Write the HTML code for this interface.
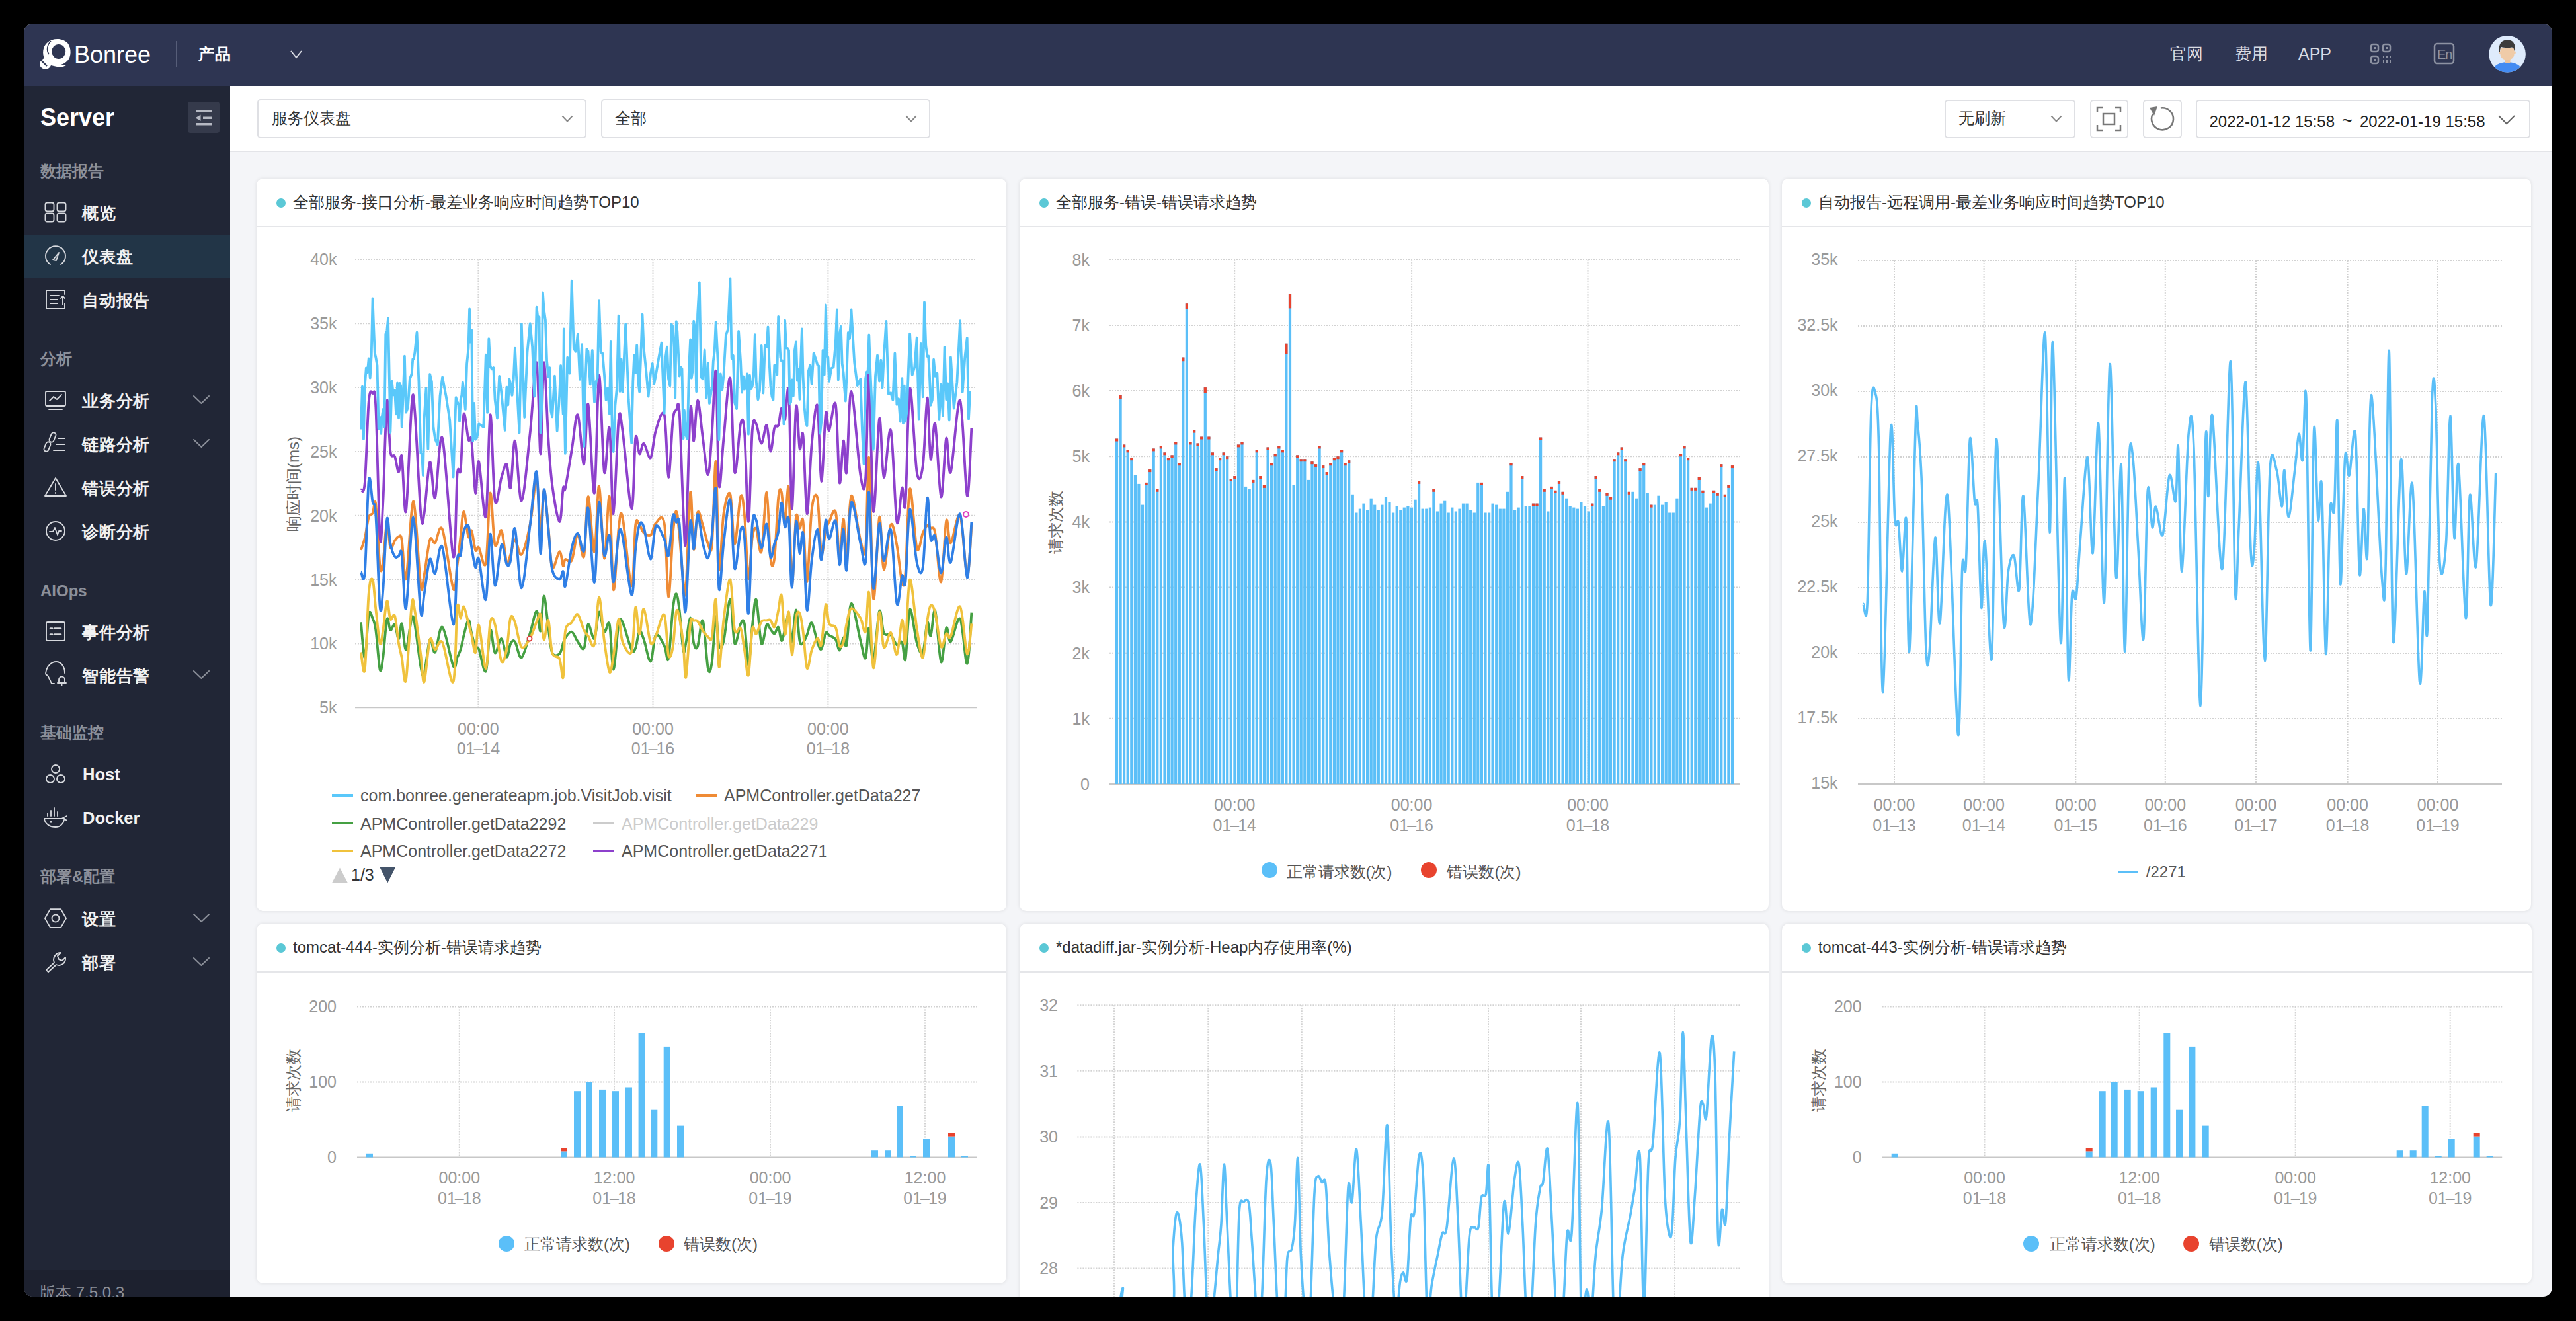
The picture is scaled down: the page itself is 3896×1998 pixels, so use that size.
<!DOCTYPE html><html><head><meta charset="utf-8"><style>

*{box-sizing:border-box;margin:0;padding:0}
html,body{width:3896px;height:1998px;background:#000;overflow:hidden;font-family:"Liberation Sans", sans-serif}
.page{position:absolute;left:0;top:0;width:3896px;height:1998px;clip-path:inset(36px 36px 37px 36px round 14px);background:#f4f5f8}
.abs{position:absolute}
.t{position:absolute;white-space:nowrap;line-height:1}
svg{overflow:visible}

</style></head><body><div class="page">
<div class="abs" style="left:0px;top:130px;width:348px;height:1868px;background:#212636"></div>
<div class="abs" style="left:0px;top:1921px;width:348px;height:77px;background:#1d212f"></div>
<div class="t" style="left:61.0px;top:159.5px;font-size:36px;color:#fff;font-weight:bold;">Server</div>
<div class="abs" style="left:284px;top:154px;width:48px;height:47px;background:#353a4b;border-radius:4px"></div>
<svg class="abs" style="left:0;top:0" width="400" height="300"><g fill="#b5b8c2">
<rect x="296" y="166.5" width="24" height="3.5"/><rect x="307" y="176.5" width="13" height="3.5"/><rect x="296" y="186" width="24" height="3.5"/>
<path d="M295.5 178.2 L303.5 173.5 L303.5 183 Z"/></g></svg>
<div class="t" style="left:61.0px;top:246.7px;font-size:24px;color:#8c909a;font-weight:900;">数据报告</div>
<div class="t" style="left:61.0px;top:530.7px;font-size:24px;color:#8c909a;font-weight:900;">分析</div>
<div class="t" style="left:61.0px;top:881.7px;font-size:24px;color:#8c909a;font-weight:900;">AIOps</div>
<div class="t" style="left:61.0px;top:1095.7px;font-size:24px;color:#8c909a;font-weight:900;">基础监控</div>
<div class="t" style="left:61.0px;top:1313.7px;font-size:24px;color:#8c909a;font-weight:900;">部署&amp;配置</div>
<div class="abs" style="left:36px;top:356px;width:312px;height:64px;background:#223547"></div>
<div class="t" style="left:124.0px;top:309.8px;font-size:25px;color:#f2f2f2;font-weight:600;letter-spacing:0.8px;">概览</div>
<div class="t" style="left:124.0px;top:375.8px;font-size:25px;color:#f2f2f2;font-weight:600;letter-spacing:0.8px;">仪表盘</div>
<div class="t" style="left:124.0px;top:441.8px;font-size:25px;color:#f2f2f2;font-weight:600;letter-spacing:0.8px;">自动报告</div>
<div class="t" style="left:124.0px;top:593.8px;font-size:25px;color:#f2f2f2;font-weight:600;letter-spacing:0.8px;">业务分析</div>
<div class="t" style="left:124.0px;top:659.8px;font-size:25px;color:#f2f2f2;font-weight:600;letter-spacing:0.8px;">链路分析</div>
<div class="t" style="left:124.0px;top:725.8px;font-size:25px;color:#f2f2f2;font-weight:600;letter-spacing:0.8px;">错误分析</div>
<div class="t" style="left:124.0px;top:791.8px;font-size:25px;color:#f2f2f2;font-weight:600;letter-spacing:0.8px;">诊断分析</div>
<div class="t" style="left:124.0px;top:943.8px;font-size:25px;color:#f2f2f2;font-weight:600;letter-spacing:0.8px;">事件分析</div>
<div class="t" style="left:124.0px;top:1009.8px;font-size:25px;color:#f2f2f2;font-weight:600;letter-spacing:0.8px;">智能告警</div>
<div class="t" style="left:125.0px;top:1159.4px;font-size:25.5px;color:#f2f2f2;font-weight:bold;">Host</div>
<div class="t" style="left:125.0px;top:1225.4px;font-size:25.5px;color:#f2f2f2;font-weight:bold;">Docker</div>
<div class="t" style="left:124.0px;top:1377.8px;font-size:25px;color:#f2f2f2;font-weight:600;letter-spacing:0.8px;">设置</div>
<div class="t" style="left:124.0px;top:1443.8px;font-size:25px;color:#f2f2f2;font-weight:600;letter-spacing:0.8px;">部署</div>
<svg class="abs" style="left:0;top:0" width="400" height="2000"><g fill="none" stroke="#d6d8dd" stroke-width="1.9" stroke-linecap="round" stroke-linejoin="round">
<rect x="68.5" y="306.5" width="13" height="13" rx="3"/>
<rect x="68.5" y="322.5" width="13" height="13" rx="3"/>
<rect x="86.5" y="306.5" width="13" height="13" rx="3"/>
<rect x="86.5" y="322.5" width="13" height="13" rx="3"/>
<path d="M76 400 A15 15 0 1 1 92 400"/>
<path d="M80 393 L89 382 L85 394 Z"/>
<path d="M98 445 V439 H70 V467 H98 V459"/>
<path d="M76 447 H89 M76 453 H87 M76 459 H87 M95 461 V448 M92 451 L95 448 L98 451"/>
<polyline points="293,599 304.5,610 316,599" stroke="#8c909a" stroke-width="2"/>
<rect x="69" y="592" width="30" height="22" rx="2"/>
<path d="M74 619 H94 M75 606 L81 600 L86 604 L93 597"/>
<polyline points="293,665 304.5,676 316,665" stroke="#8c909a" stroke-width="2"/>
<rect x="76" y="654" width="7" height="15" rx="3.5" transform="rotate(22 79.5 661.5)"/>
<rect x="68" y="668" width="7" height="15" rx="3.5" transform="rotate(22 71.5 675.5)"/>
<path d="M88 663 H98 M85 672 H98 M81 681 H98"/>
<path d="M84 723 L100 750 H68 Z"/>
<path d="M84 732 V741 M84 745 V746"/>
<circle cx="84" cy="803" r="14"/>
<path d="M75 804 L80 804 L83 798 L87 809 L89 803 L93 803"/>
<rect x="70" y="941" width="28" height="28" rx="2"/>
<path d="M76 950.5 H79 M82 950.5 H92 M76 959.5 H79 M82 959.5 H92" stroke-width="2.6"/>
<polyline points="293,1015 304.5,1026 316,1015" stroke="#8c909a" stroke-width="2"/>
<path d="M82 1034 H78 L76.5 1030.5 L72.5 1022.5 L69 1019.5 C70 1007 78 1001 85 1001 C93 1001 98 1009 98 1018"/>
<path d="M89 1033 V1028 A4.5 4.5 0 0 1 98 1028 V1033 Z M87 1033 H100 M93.5 1035.5 V1036.5"/>
<circle cx="84" cy="1163" r="6"/><circle cx="76" cy="1178" r="6"/><circle cx="92" cy="1178" r="6"/>
<path d="M67 1238 H93 L101 1234 M67 1238 C68 1247 76 1251 84 1251 C92 1251 96 1245 97 1240 M96 1237 L101 1241"/>
<path d="M72 1234 V1230 M77 1234 V1226 M82 1234 V1222 M87 1234 V1228" stroke-width="1.8"/><circle cx="77" cy="1243" r="0.8"/>
<polyline points="293,1383 304.5,1394 316,1383" stroke="#8c909a" stroke-width="2"/>
<polygon points="100.0,1389.0 92.0,1402.9 76.0,1402.9 68.0,1389.0 76.0,1375.1 92.0,1375.1"/><circle cx="84" cy="1389" r="5.5"/>
<polyline points="293,1449 304.5,1460 316,1449" stroke="#8c909a" stroke-width="2"/>
<path d="M70 1467 L82 1456 C79 1449 84 1441 92 1441 L87 1446 L89 1451 L94 1453 L99 1448 C100 1457 92 1462 85 1459 L73 1470 Z"/>
</g></svg>
<div class="t" style="left:60.0px;top:1942.7px;font-size:24px;color:#8c909a;font-weight:normal;">版本 7.5.0.3</div>
<div class="abs" style="left:348px;top:130px;width:3548px;height:100px;background:#fff;border-bottom:2px solid #e3e4e8"></div>
<div class="abs" style="left:389px;top:150px;width:498px;height:59px;background:#fff;border:2px solid #dfe0e4;border-radius:5px"></div>
<div class="t" style="left:411.0px;top:167.2px;font-size:24px;color:#333;font-weight:normal;">服务仪表盘</div>
<svg class="abs" style="left:0;top:0" width="3896" height="1998"><polyline points="850.5,175.5 858,183.5 865.5,175.5" fill="none" stroke="#888" stroke-width="2"/></svg>
<div class="abs" style="left:909px;top:150px;width:498px;height:59px;background:#fff;border:2px solid #dfe0e4;border-radius:5px"></div>
<div class="t" style="left:930.0px;top:167.2px;font-size:24px;color:#333;font-weight:normal;">全部</div>
<svg class="abs" style="left:0;top:0" width="3896" height="1998"><polyline points="1370.5,175.5 1378,183.5 1385.5,175.5" fill="none" stroke="#888" stroke-width="2"/></svg>
<div class="abs" style="left:2941px;top:151px;width:198px;height:58px;background:#fff;border:2px solid #dfe0e4;border-radius:5px"></div>
<div class="t" style="left:2962.0px;top:167.2px;font-size:24px;color:#333;font-weight:normal;">无刷新</div>
<svg class="abs" style="left:0;top:0" width="3896" height="1998"><polyline points="3102.5,175.5 3110,183.5 3117.5,175.5" fill="none" stroke="#888" stroke-width="2"/></svg>
<div class="abs" style="left:3161px;top:151px;width:58px;height:58px;background:#fff;border:2px solid #dfe0e4;border-radius:5px"></div>
<div class="abs" style="left:3241px;top:151px;width:59px;height:58px;background:#fff;border:2px solid #dfe0e4;border-radius:5px"></div>
<div class="abs" style="left:3321px;top:151px;width:506px;height:58px;background:#fff;border:2px solid #dfe0e4;border-radius:5px"></div>
<div class="t" style="left:3341.5px;top:169.7px;font-size:24px;color:#222;font-weight:normal;">2022-01-12 15:58<span style="display:inline-block;width:38px;text-align:center;font-size:27px">~</span>2022-01-19 15:58</div>
<svg class="abs" style="left:0;top:0" width="3896" height="1998"><polyline points="3779.0,175.0 3791,187.0 3803.0,175.0" fill="none" stroke="#666" stroke-width="2"/></svg>
<svg class="abs" style="left:0;top:0" width="3896" height="300"><g fill="none" stroke="#777" stroke-width="2.5">
<path d="M3172 170 V163 H3180 M3199 163 H3207 V170 M3207 189 V197 H3199 M3180 197 H3172 V189"/>
<rect x="3181" y="172" width="17" height="16"/>
<path d="M3256 172 A16.5 16.5 0 1 0 3268 163.5" stroke-width="2.6"/>
</g><path d="M3251 163 L3263 161 L3258 175 Z" fill="#777"/></svg>
<div class="abs" style="left:388px;top:270px;width:1134px;height:1108px;background:#fff;border-radius:10px;box-shadow:0 0 5px 1px rgba(0,0,0,0.07)"></div>
<div class="abs" style="left:388px;top:342px;width:1134px;height:2px;background:#e5e6e9"></div>
<div class="abs" style="left:418px;top:300px;width:14px;height:14px;border-radius:50%;background:#5bc8d6"></div>
<div class="t" style="left:443.0px;top:294.2px;font-size:24px;color:#333;font-weight:normal;">全部服务-接口分析-最差业务响应时间趋势TOP10</div>
<svg class="abs" style="left:0;top:0" width="3896" height="1998">
<g stroke="#d2d2d2" stroke-width="2" stroke-dasharray="2 2" fill="none">
<line x1="537" y1="392.4" x2="1477" y2="392.4"/>
<line x1="537" y1="489.2" x2="1477" y2="489.2"/>
<line x1="537" y1="586.1" x2="1477" y2="586.1"/>
<line x1="537" y1="682.9" x2="1477" y2="682.9"/>
<line x1="537" y1="779.8" x2="1477" y2="779.8"/>
<line x1="537" y1="876.6" x2="1477" y2="876.6"/>
<line x1="537" y1="973.5" x2="1477" y2="973.5"/>
<line x1="723.4" y1="392.4" x2="723.4" y2="1070.3"/>
<line x1="987.5" y1="392.4" x2="987.5" y2="1070.3"/>
<line x1="1252.4" y1="392.4" x2="1252.4" y2="1070.3"/>
</g>
<line x1="537" y1="1070.3" x2="1477" y2="1070.3" stroke="#c8c8c8" stroke-width="2"/>
<path d="M545.9 832.0C546.9 829.0 549.8 822.1 551.8 813.7C553.8 805.4 555.7 788.3 557.7 782.1C559.7 775.9 561.8 779.6 563.6 776.4C565.4 773.2 566.5 749.6 568.3 762.9C570.2 776.2 572.8 841.7 574.6 856.2C576.5 870.7 577.6 861.0 579.4 849.8C581.1 838.7 583.4 793.0 585.3 789.4C587.1 785.7 588.4 823.3 590.4 828.1C592.3 832.8 595.0 820.6 597.1 817.8C599.2 815.1 601.2 811.7 603.0 811.5C604.7 811.4 605.9 806.2 607.7 816.9C609.5 827.6 611.5 883.0 614.0 875.6C616.5 868.2 620.4 789.9 622.7 772.6C624.9 755.2 625.1 752.6 627.4 771.6C629.7 790.5 634.1 869.6 636.4 886.1C638.8 902.5 639.3 882.1 641.5 870.5C643.8 858.9 647.5 824.7 650.2 816.5C653.0 808.3 654.9 823.7 658.1 821.1C661.2 818.5 664.5 789.2 669.1 800.8C673.7 812.4 681.9 881.6 685.6 890.7C689.4 899.7 689.7 868.6 691.5 855.3C693.4 842.0 695.0 824.6 696.7 811.0C698.3 797.4 699.4 773.5 701.4 773.7C703.3 773.9 706.5 807.2 708.5 812.0C710.4 816.8 711.4 799.2 713.2 802.5C715.0 805.9 717.3 827.8 719.1 832.1C720.9 836.4 721.6 825.1 724.2 828.3C726.8 831.5 731.9 865.2 734.8 851.5C737.7 837.7 739.2 750.3 741.5 745.7C743.8 741.2 745.8 814.9 748.6 824.3C751.4 833.8 755.5 798.0 758.4 802.4C761.4 806.7 764.0 844.4 766.3 850.5C768.6 856.6 770.1 844.6 772.2 838.9C774.3 833.1 776.2 816.3 778.9 816.2C781.7 816.1 785.0 842.3 788.8 838.5C792.6 834.6 797.9 812.2 801.7 793.1C805.5 774.0 809.0 722.0 811.6 723.9C814.2 725.8 815.7 801.7 817.5 804.5C819.3 807.4 820.6 742.1 822.6 740.9C824.6 739.8 827.2 777.9 829.3 797.5C831.4 817.1 832.4 852.4 835.2 858.6C838.0 864.7 843.5 834.6 846.2 834.2C849.0 833.8 850.3 854.0 851.7 856.0C853.2 858.0 852.7 847.5 854.9 846.1C857.0 844.7 861.6 853.6 864.7 847.4C867.9 841.1 870.7 809.3 873.8 808.3C876.9 807.3 880.6 851.0 883.2 841.4C885.8 831.9 886.9 752.1 889.5 751.0C892.1 749.9 896.2 837.4 899.0 834.7C901.7 832.0 903.6 733.2 906.0 734.9C908.5 736.5 911.3 842.0 913.9 844.7C916.5 847.3 919.5 743.1 921.8 751.0C924.1 758.9 925.4 883.6 927.7 891.8C930.0 900.0 933.3 818.5 935.6 800.2C937.9 781.9 938.2 767.6 941.5 782.0C944.8 796.3 952.0 884.3 955.2 886.3C958.5 888.3 959.2 809.3 961.2 793.9C963.1 778.5 965.0 791.9 967.1 793.8C969.2 795.8 970.9 803.2 973.7 805.8C976.6 808.4 981.0 811.7 984.0 809.3C987.0 806.9 988.4 794.3 991.9 791.3C995.3 788.4 1001.5 773.0 1004.7 791.5C1007.9 810.1 1008.9 899.8 1011.0 902.5C1013.2 905.2 1015.8 829.4 1017.7 807.9C1019.7 786.3 1021.2 772.9 1022.8 773.2C1024.5 773.4 1025.8 791.6 1027.6 809.4C1029.3 827.1 1031.8 866.2 1033.5 879.7C1035.1 893.2 1035.6 913.0 1037.4 890.5C1039.2 868.0 1042.1 754.6 1044.1 744.6C1046.1 734.6 1047.4 825.5 1049.2 830.6C1051.1 835.6 1052.8 781.1 1055.1 775.1C1057.4 769.1 1060.4 786.8 1063.0 794.7C1065.6 802.7 1068.6 817.9 1070.9 822.7C1073.2 827.5 1074.8 844.3 1076.8 823.5C1078.8 802.8 1080.9 691.9 1082.7 698.1C1084.5 704.3 1085.5 847.6 1087.4 860.6C1089.4 873.7 1091.7 795.5 1094.5 776.6C1097.3 757.8 1101.6 739.8 1104.4 747.4C1107.1 755.1 1108.4 822.1 1111.1 822.7C1113.7 823.3 1117.6 758.2 1120.1 751.0C1122.6 743.8 1124.0 759.0 1126.0 779.7C1128.0 800.3 1130.0 869.4 1131.9 875.0C1133.9 880.6 1135.9 825.8 1137.8 813.2C1139.8 800.7 1141.4 796.3 1143.7 799.8C1146.0 803.3 1149.0 843.5 1151.6 834.3C1154.2 825.2 1157.2 743.1 1159.5 744.8C1161.8 746.5 1163.4 827.9 1165.4 844.4C1167.4 860.9 1169.3 859.2 1171.3 843.9C1173.3 828.6 1175.4 769.2 1177.2 752.7C1179.0 736.1 1180.3 738.2 1181.9 744.5C1183.6 750.7 1185.2 791.0 1187.1 789.9C1188.9 788.8 1191.2 722.3 1193.0 737.8C1194.7 753.3 1195.8 875.4 1197.7 882.8C1199.5 890.3 1202.0 796.3 1204.0 782.3C1206.0 768.2 1207.7 797.6 1209.5 798.7C1211.3 799.8 1212.8 775.2 1214.6 788.7C1216.5 802.3 1218.4 882.9 1220.5 880.1C1222.7 877.2 1225.0 792.5 1227.6 771.4C1230.2 750.3 1233.9 742.5 1236.3 753.4C1238.7 764.3 1240.1 828.9 1242.2 836.9C1244.3 844.9 1246.9 809.1 1248.9 801.2C1250.9 793.3 1251.5 793.7 1254.0 789.3C1256.5 784.8 1261.2 765.5 1263.8 774.4C1266.5 783.3 1267.8 840.9 1269.8 842.7C1271.7 844.5 1273.9 784.9 1275.7 785.1C1277.4 785.2 1278.4 849.3 1280.4 843.4C1282.4 837.6 1284.0 754.3 1287.5 749.9C1291.0 745.5 1297.6 803.6 1301.3 816.9C1304.9 830.3 1307.0 850.7 1309.1 830.0C1311.3 809.2 1312.3 680.1 1314.3 692.6C1316.2 705.1 1318.3 889.9 1320.9 904.8C1323.6 919.8 1327.4 789.8 1330.0 782.5C1332.6 775.2 1333.8 859.4 1336.7 861.2C1339.6 863.1 1344.0 799.7 1347.3 793.6C1350.6 787.5 1353.6 810.2 1356.4 824.7C1359.2 839.2 1362.1 873.6 1364.3 880.7C1366.4 887.7 1367.4 890.4 1369.4 866.9C1371.4 843.3 1373.2 745.5 1376.1 739.3C1379.0 733.0 1383.4 818.3 1386.7 829.4C1390.0 840.5 1393.1 811.7 1395.8 805.9C1398.4 800.1 1400.5 795.8 1402.5 794.6C1404.4 793.3 1405.6 796.6 1407.6 798.5C1409.6 800.5 1411.7 792.7 1414.3 806.4C1416.9 820.0 1420.5 883.5 1423.3 880.4C1426.2 877.3 1428.8 797.5 1431.2 787.6C1433.6 777.8 1434.4 822.7 1437.9 821.3C1441.4 820.0 1447.9 771.4 1452.1 779.6C1456.2 787.8 1459.8 868.3 1462.7 870.8C1465.6 873.2 1468.3 806.9 1469.4 794.1" fill="none" stroke="#ef8b35" stroke-width="3.8" stroke-linejoin="round"/>
<path d="M545.9 864.7C546.9 864.9 549.8 888.8 551.8 865.9C553.8 842.9 555.7 744.9 557.7 727.2C559.7 709.5 561.8 750.9 563.6 759.5C565.4 768.1 566.5 752.5 568.3 778.8C570.2 805.1 572.8 898.6 574.6 917.3C576.5 936.0 577.6 913.0 579.4 891.1C581.1 869.1 583.4 796.9 585.3 785.5C587.1 774.0 588.4 812.9 590.4 822.3C592.3 831.7 595.0 838.7 597.1 841.8C599.2 845.0 601.2 841.6 603.0 841.1C604.7 840.5 605.9 825.3 607.7 838.5C609.5 851.8 611.5 927.3 614.0 920.5C616.5 913.6 620.4 817.6 622.7 797.4C624.9 777.2 625.1 777.9 627.4 799.4C629.7 820.9 634.1 909.7 636.4 926.3C638.8 942.9 639.3 912.5 641.5 899.1C643.8 885.7 647.5 851.2 650.2 845.9C653.0 840.6 654.9 870.1 658.1 867.1C661.2 864.1 664.5 815.0 669.1 827.9C673.7 840.8 681.9 941.2 685.6 944.4C689.4 947.6 689.7 864.8 691.5 847.2C693.4 829.7 695.0 846.4 696.7 839.2C698.3 832.0 699.4 811.3 701.4 804.0C703.3 796.7 706.5 791.5 708.5 795.4C710.4 799.3 711.4 816.9 713.2 827.4C715.0 837.8 717.3 855.3 719.1 858.3C720.9 861.3 721.6 837.4 724.2 845.4C726.8 853.5 731.9 913.1 734.8 906.8C737.7 900.5 739.2 811.3 741.5 807.8C743.8 804.2 745.8 882.8 748.6 885.6C751.4 888.4 755.5 829.7 758.4 824.3C761.4 818.9 764.0 849.2 766.3 853.1C768.6 857.0 770.1 856.7 772.2 847.8C774.3 838.9 776.2 792.7 778.9 799.6C781.7 806.5 785.0 890.3 788.8 889.3C792.6 888.4 797.9 823.4 801.7 794.1C805.5 764.8 809.0 706.4 811.6 713.5C814.2 720.7 815.7 832.4 817.5 837.0C819.3 841.5 820.6 747.0 822.6 740.8C824.6 734.6 827.2 779.6 829.3 799.7C831.4 819.9 832.4 848.9 835.2 861.7C838.0 874.5 843.5 875.9 846.2 876.3C849.0 876.7 850.3 862.3 851.7 864.0C853.2 865.7 852.7 892.3 854.9 886.5C857.0 880.7 861.6 842.3 864.7 829.1C867.9 815.8 870.7 806.2 873.8 806.9C876.9 807.6 880.6 839.7 883.2 833.3C885.8 826.9 886.9 760.7 889.5 768.7C892.1 776.6 896.2 882.5 899.0 881.1C901.7 879.7 903.6 766.9 906.0 760.1C908.5 753.2 911.3 831.5 913.9 839.8C916.5 848.1 919.5 802.8 921.8 809.6C924.1 816.4 925.4 880.6 927.7 880.6C930.0 880.6 933.3 821.3 935.6 809.7C937.9 798.1 938.2 795.9 941.5 811.0C944.8 826.1 952.0 896.8 955.2 900.0C958.5 903.3 959.2 848.1 961.2 830.4C963.1 812.7 965.0 799.4 967.1 793.9C969.2 788.4 970.9 788.7 973.7 797.4C976.6 806.0 981.0 846.1 984.0 845.8C987.0 845.6 988.4 800.8 991.9 795.8C995.3 790.7 1001.5 808.2 1004.7 815.7C1007.9 823.1 1008.9 846.2 1011.0 840.3C1013.2 834.4 1015.8 788.7 1017.7 780.3C1019.7 771.8 1021.2 787.8 1022.8 789.8C1024.5 791.8 1025.8 775.2 1027.6 792.2C1029.3 809.2 1031.8 870.3 1033.5 891.6C1035.1 912.9 1035.6 936.8 1037.4 919.8C1039.2 902.8 1042.1 804.4 1044.1 789.5C1046.1 774.6 1047.4 832.4 1049.2 830.5C1051.1 828.6 1052.8 779.6 1055.1 778.1C1057.4 776.6 1060.4 810.7 1063.0 821.7C1065.6 832.7 1068.6 846.3 1070.9 844.2C1073.2 842.0 1074.8 826.0 1076.8 808.6C1078.8 791.2 1080.9 726.1 1082.7 739.7C1084.5 753.4 1085.5 876.8 1087.4 890.3C1089.4 903.9 1091.7 843.4 1094.5 821.0C1097.3 798.6 1101.6 749.3 1104.4 755.8C1107.1 762.3 1108.4 852.2 1111.1 859.8C1113.7 867.5 1117.6 809.2 1120.1 801.6C1122.6 793.9 1124.0 793.0 1126.0 814.1C1128.0 835.2 1130.0 931.5 1131.9 928.1C1133.9 924.7 1135.9 817.1 1137.8 793.6C1139.8 770.0 1141.4 781.0 1143.7 786.8C1146.0 792.6 1149.0 827.6 1151.6 828.5C1154.2 829.4 1157.2 790.0 1159.5 792.4C1161.8 794.8 1163.4 838.0 1165.4 842.9C1167.4 847.9 1169.3 828.5 1171.3 822.1C1173.3 815.6 1175.4 814.4 1177.2 804.1C1179.0 793.9 1180.3 761.8 1181.9 760.6C1183.6 759.5 1185.2 792.8 1187.1 797.0C1188.9 801.2 1191.2 770.8 1193.0 786.1C1194.7 801.3 1195.8 888.1 1197.7 888.6C1199.5 889.2 1202.0 798.1 1204.0 789.4C1206.0 780.8 1207.7 833.9 1209.5 836.9C1211.3 839.9 1212.8 793.2 1214.6 807.5C1216.5 821.7 1218.4 915.8 1220.5 922.5C1222.7 929.3 1225.0 868.3 1227.6 847.9C1230.2 827.6 1233.9 800.8 1236.3 800.6C1238.7 800.3 1240.1 848.9 1242.2 846.6C1244.3 844.4 1246.9 792.1 1248.9 786.8C1250.9 781.6 1251.5 815.1 1254.0 815.3C1256.5 815.5 1261.2 781.5 1263.8 788.0C1266.5 794.4 1267.8 852.0 1269.8 854.1C1271.7 856.1 1273.9 798.8 1275.7 800.2C1277.4 801.6 1278.4 869.1 1280.4 862.4C1282.4 855.7 1284.0 767.1 1287.5 760.2C1291.0 753.4 1297.6 806.2 1301.3 821.2C1304.9 836.2 1307.0 863.2 1309.1 850.5C1311.3 837.7 1312.3 737.9 1314.3 744.5C1316.2 751.0 1318.3 881.8 1320.9 889.7C1323.6 897.7 1327.4 799.1 1330.0 792.2C1332.6 785.2 1333.8 846.5 1336.7 848.1C1339.6 849.6 1344.0 790.6 1347.3 801.4C1350.6 812.2 1353.6 901.4 1356.4 912.9C1359.2 924.4 1362.1 876.0 1364.3 870.6C1366.4 865.2 1367.4 897.2 1369.4 880.6C1371.4 864.0 1373.2 775.7 1376.1 770.8C1379.0 765.8 1383.4 836.3 1386.7 850.8C1390.0 865.3 1393.1 874.0 1395.8 857.8C1398.4 841.5 1400.5 760.3 1402.5 753.3C1404.4 746.2 1405.6 805.7 1407.6 815.5C1409.6 825.2 1411.7 803.1 1414.3 811.7C1416.9 820.2 1420.5 866.6 1423.3 866.7C1426.2 866.9 1428.8 815.2 1431.2 812.5C1433.6 809.8 1434.4 856.4 1437.9 850.5C1441.4 844.7 1447.9 773.5 1452.1 777.3C1456.2 781.2 1459.8 871.6 1462.7 873.6C1465.6 875.6 1468.3 803.3 1469.4 789.2" fill="none" stroke="#2f7fe6" stroke-width="3.8" stroke-linejoin="round"/>
<path d="M545.9 941.2C546.9 950.1 549.8 996.7 551.8 994.7C553.8 992.7 555.7 939.2 557.7 929.4C559.7 919.5 561.8 931.5 563.6 935.4C565.4 939.4 566.5 940.1 568.3 953.0C570.2 965.9 572.8 1006.0 574.6 1012.7C576.5 1019.5 577.6 1006.3 579.4 993.5C581.1 980.8 583.4 943.3 585.3 936.5C587.1 929.8 588.4 951.7 590.4 953.0C592.3 954.4 595.0 942.4 597.1 944.7C599.2 947.0 601.2 966.9 603.0 966.7C604.7 966.5 605.9 940.9 607.7 943.5C609.5 946.1 611.5 983.8 614.0 982.4C616.5 981.0 620.4 941.5 622.7 935.2C624.9 928.9 625.1 932.5 627.4 944.8C629.7 957.0 634.1 996.2 636.4 1008.7C638.8 1021.1 639.3 1026.2 641.5 1019.3C643.8 1012.4 647.5 972.9 650.2 967.5C653.0 962.1 654.9 989.9 658.1 986.7C661.2 983.6 664.5 945.1 669.1 948.6C673.7 952.1 681.9 1000.1 685.6 1007.7C689.4 1015.3 689.7 998.5 691.5 994.2C693.4 990.0 695.0 987.6 696.7 982.2C698.3 976.7 699.4 969.0 701.4 961.6C703.3 954.2 706.5 938.3 708.5 937.6C710.4 937.0 711.4 950.6 713.2 957.6C715.0 964.6 717.3 975.6 719.1 979.6C720.9 983.6 721.6 975.7 724.2 981.7C726.8 987.6 731.9 1020.2 734.8 1015.4C737.7 1010.5 739.2 957.4 741.5 952.8C743.8 948.1 745.8 985.2 748.6 987.4C751.4 989.6 755.5 965.0 758.4 966.0C761.4 967.0 764.0 992.4 766.3 993.6C768.6 994.9 770.1 977.3 772.2 973.5C774.3 969.6 776.2 967.0 778.9 970.6C781.7 974.1 785.0 996.9 788.8 994.7C792.6 992.6 797.9 969.3 801.7 957.6C805.5 945.8 809.0 924.7 811.6 924.1C814.2 923.6 815.7 958.1 817.5 954.4C819.3 950.6 820.6 902.6 822.6 901.6C824.6 900.7 827.2 934.4 829.3 948.6C831.4 962.9 832.4 980.5 835.2 987.2C838.0 993.9 843.5 991.3 846.2 988.9C849.0 986.6 850.3 977.1 851.7 973.0C853.2 969.0 852.7 967.6 854.9 964.7C857.0 961.8 861.6 954.8 864.7 955.7C867.9 956.7 870.7 966.4 873.8 970.5C876.9 974.7 880.6 984.9 883.2 980.6C885.8 976.2 886.9 946.9 889.5 944.5C892.1 942.0 896.2 969.1 899.0 966.0C901.7 962.8 903.6 927.3 906.0 925.6C908.5 923.9 911.3 952.6 913.9 955.8C916.5 958.9 919.5 934.8 921.8 944.3C924.1 953.7 925.4 1012.6 927.7 1012.7C930.0 1012.7 933.3 956.5 935.6 944.6C937.9 932.7 938.2 934.7 941.5 941.1C944.8 947.4 952.0 976.2 955.2 982.6C958.5 989.1 959.2 984.6 961.2 980.0C963.1 975.4 965.0 957.1 967.1 955.0C969.2 952.8 970.9 959.6 973.7 967.2C976.6 974.8 981.0 1001.6 984.0 1000.5C987.0 999.4 988.4 964.3 991.9 960.4C995.3 956.4 1001.5 970.7 1004.7 976.7C1007.9 982.6 1008.9 1005.3 1011.0 995.9C1013.2 986.6 1015.8 936.9 1017.7 920.6C1019.7 904.3 1021.2 897.7 1022.8 898.1C1024.5 898.5 1025.8 909.0 1027.6 923.3C1029.3 937.5 1031.8 975.3 1033.5 983.5C1035.1 991.7 1035.6 980.8 1037.4 972.6C1039.2 964.4 1042.1 934.3 1044.1 934.3C1046.1 934.3 1047.4 965.4 1049.2 972.6C1051.1 979.9 1052.8 983.4 1055.1 977.8C1057.4 972.2 1060.4 933.3 1063.0 938.9C1065.6 944.5 1068.6 1001.1 1070.9 1011.5C1073.2 1021.8 1074.8 1014.2 1076.8 1001.1C1078.8 987.9 1080.9 936.6 1082.7 932.5C1084.5 928.5 1085.5 970.7 1087.4 976.8C1089.4 982.9 1091.7 981.0 1094.5 969.3C1097.3 957.6 1101.6 906.0 1104.4 906.6C1107.1 907.2 1108.4 966.7 1111.1 972.9C1113.7 979.1 1117.6 948.5 1120.1 943.7C1122.6 938.9 1124.0 933.7 1126.0 944.2C1128.0 954.6 1130.0 1005.7 1131.9 1006.2C1133.9 1006.6 1135.9 963.4 1137.8 946.9C1139.8 930.4 1141.4 902.7 1143.7 907.0C1146.0 911.4 1149.0 966.9 1151.6 973.2C1154.2 979.5 1157.2 948.6 1159.5 945.0C1161.8 941.5 1163.4 949.6 1165.4 951.8C1167.4 954.1 1169.3 959.0 1171.3 958.5C1173.3 958.0 1175.4 946.9 1177.2 948.7C1179.0 950.4 1180.3 968.3 1181.9 969.0C1183.6 969.7 1185.2 959.3 1187.1 952.8C1188.9 946.3 1191.2 927.3 1193.0 930.2C1194.7 933.1 1195.8 971.5 1197.7 970.2C1199.5 968.8 1202.0 922.4 1204.0 922.3C1206.0 922.2 1207.7 961.2 1209.5 969.5C1211.3 977.8 1212.8 973.8 1214.6 972.2C1216.5 970.7 1218.4 965.3 1220.5 960.3C1222.7 955.3 1225.0 940.3 1227.6 942.1C1230.2 943.9 1233.9 964.5 1236.3 971.1C1238.7 977.7 1240.1 983.9 1242.2 981.6C1244.3 979.3 1246.9 961.0 1248.9 957.5C1250.9 954.1 1251.5 959.3 1254.0 960.9C1256.5 962.4 1261.2 963.3 1263.8 967.1C1266.5 970.9 1267.8 984.1 1269.8 983.6C1271.7 983.2 1273.9 965.9 1275.7 964.4C1277.4 963.0 1278.4 983.8 1280.4 975.2C1282.4 966.6 1284.0 913.8 1287.5 912.7C1291.0 911.5 1297.6 954.7 1301.3 968.5C1304.9 982.3 1307.0 998.6 1309.1 995.5C1311.3 992.4 1312.3 949.1 1314.3 949.8C1316.2 950.5 1318.3 1004.0 1320.9 999.8C1323.6 995.5 1327.4 931.5 1330.0 924.4C1332.6 917.3 1333.8 951.3 1336.7 957.3C1339.6 963.3 1344.0 957.4 1347.3 960.4C1350.6 963.5 1353.6 973.7 1356.4 975.5C1359.2 977.3 1362.1 967.7 1364.3 971.3C1366.4 974.9 1367.4 1005.4 1369.4 997.1C1371.4 988.9 1373.2 925.9 1376.1 921.8C1379.0 917.7 1383.4 961.4 1386.7 972.3C1390.0 983.2 1393.1 992.2 1395.8 987.1C1398.4 981.9 1400.5 945.6 1402.5 941.4C1404.4 937.1 1405.6 964.5 1407.6 961.6C1409.6 958.7 1411.7 917.2 1414.3 923.8C1416.9 930.5 1420.5 997.0 1423.3 1001.3C1426.2 1005.6 1428.8 954.9 1431.2 949.8C1433.6 944.6 1434.4 972.8 1437.9 970.5C1441.4 968.2 1447.9 930.3 1452.1 935.9C1456.2 941.5 1459.8 1005.4 1462.7 1003.8C1465.6 1002.3 1468.3 939.6 1469.4 926.7" fill="none" stroke="#45a043" stroke-width="3.8" stroke-linejoin="round"/>
<path d="M545.9 986.5C546.9 990.8 549.8 1027.4 551.8 1012.6C553.8 997.8 555.7 920.3 557.7 897.7C559.7 875.0 561.8 872.8 563.6 876.6C565.4 880.5 566.5 904.8 568.3 920.8C570.2 936.9 572.8 967.6 574.6 972.9C576.5 978.3 577.6 963.4 579.4 952.8C581.1 942.1 583.4 911.8 585.3 909.1C587.1 906.3 588.4 932.7 590.4 936.5C592.3 940.2 595.0 925.5 597.1 931.6C599.2 937.7 601.2 962.5 603.0 973.0C604.7 983.5 605.9 985.3 607.7 994.6C609.5 1003.8 611.5 1041.6 614.0 1028.4C616.5 1015.1 620.4 932.3 622.7 914.9C624.9 897.6 625.1 911.4 627.4 924.1C629.7 936.7 634.1 972.8 636.4 990.8C638.8 1008.7 639.3 1035.4 641.5 1031.6C643.8 1027.7 647.5 975.7 650.2 967.5C653.0 959.4 654.9 982.0 658.1 982.7C661.2 983.4 664.5 963.8 669.1 971.8C673.7 979.9 681.9 1039.9 685.6 1031.1C689.4 1022.3 689.7 935.1 691.5 919.0C693.4 903.0 695.0 935.1 696.7 934.8C698.3 934.5 699.4 916.1 701.4 917.4C703.3 918.7 706.5 935.4 708.5 942.6C710.4 949.8 711.4 953.2 713.2 960.6C715.0 968.0 717.3 989.6 719.1 987.1C720.9 984.5 721.6 941.5 724.2 945.5C726.8 949.5 731.9 1011.7 734.8 1011.1C737.7 1010.4 739.2 952.4 741.5 941.3C743.8 930.3 745.8 935.0 748.6 944.8C751.4 954.6 755.5 994.0 758.4 1000.1C761.4 1006.2 764.0 992.2 766.3 981.2C768.6 970.3 770.1 941.0 772.2 934.4C774.3 927.8 776.2 934.1 778.9 941.5C781.7 948.9 785.0 974.8 788.8 978.8C792.6 982.8 797.9 971.7 801.7 965.3C805.5 959.0 809.0 946.5 811.6 940.5C814.2 934.5 815.7 924.9 817.5 929.4C819.3 934.0 820.6 966.2 822.6 967.6C824.6 969.1 827.2 934.8 829.3 938.1C831.4 941.4 832.4 977.6 835.2 987.3C838.0 997.0 843.5 990.2 846.2 996.4C849.0 1002.6 850.3 1031.3 851.7 1024.4C853.2 1017.6 852.7 969.2 854.9 955.3C857.0 941.5 861.6 945.7 864.7 941.4C867.9 937.0 870.7 927.3 873.8 929.3C876.9 931.3 880.6 947.8 883.2 953.2C885.8 958.6 886.9 958.2 889.5 961.8C892.1 965.4 896.2 984.2 899.0 974.5C901.7 964.8 903.6 904.5 906.0 903.5C908.5 902.6 911.3 950.3 913.9 969.1C916.5 987.9 919.5 1012.6 921.8 1016.5C924.1 1020.4 925.4 1005.8 927.7 992.5C930.0 979.1 933.3 940.0 935.6 936.4C937.9 932.7 938.2 962.4 941.5 970.7C944.8 978.9 952.0 994.4 955.2 985.7C958.5 977.1 959.2 923.1 961.2 918.7C963.1 914.3 965.0 959.0 967.1 959.4C969.2 959.8 970.9 919.0 973.7 921.1C976.6 923.2 981.0 965.3 984.0 972.1C987.0 978.8 988.4 968.6 991.9 961.6C995.3 954.6 1001.5 925.1 1004.7 930.0C1007.9 934.9 1008.9 982.8 1011.0 990.9C1013.2 998.9 1015.8 989.2 1017.7 978.3C1019.7 967.4 1021.2 932.9 1022.8 925.6C1024.5 918.4 1025.8 926.4 1027.6 934.6C1029.3 942.8 1031.8 959.9 1033.5 974.9C1035.1 989.9 1035.6 1029.7 1037.4 1024.5C1039.2 1019.2 1042.1 957.7 1044.1 943.4C1046.1 929.1 1047.4 939.5 1049.2 938.9C1051.1 938.2 1052.8 937.2 1055.1 939.7C1057.4 942.1 1060.4 949.9 1063.0 953.9C1065.6 957.8 1068.6 961.7 1070.9 963.3C1073.2 965.0 1074.8 972.9 1076.8 963.5C1078.8 954.1 1080.9 899.4 1082.7 907.0C1084.5 914.5 1085.5 1003.6 1087.4 1008.7C1089.4 1013.7 1091.7 959.3 1094.5 937.3C1097.3 915.3 1101.6 874.1 1104.4 876.6C1107.1 879.1 1108.4 940.0 1111.1 952.3C1113.7 964.6 1117.6 945.1 1120.1 950.3C1122.6 955.5 1124.0 971.9 1126.0 983.7C1128.0 995.6 1130.0 1026.7 1131.9 1021.3C1133.9 1015.9 1135.9 961.7 1137.8 951.3C1139.8 940.9 1141.4 960.9 1143.7 959.0C1146.0 957.2 1149.0 943.5 1151.6 940.1C1154.2 936.7 1157.2 938.7 1159.5 938.4C1161.8 938.0 1163.4 936.4 1165.4 938.1C1167.4 939.7 1169.3 950.8 1171.3 948.3C1173.3 945.9 1175.4 931.1 1177.2 923.1C1179.0 915.2 1180.3 894.5 1181.9 900.6C1183.6 906.7 1185.2 955.7 1187.1 959.8C1188.9 964.0 1191.2 920.7 1193.0 925.7C1194.7 930.8 1195.8 988.9 1197.7 990.2C1199.5 991.5 1202.0 944.2 1204.0 933.8C1206.0 923.4 1207.7 924.3 1209.5 927.9C1211.3 931.4 1212.8 941.5 1214.6 955.3C1216.5 969.1 1218.4 1006.0 1220.5 1010.7C1222.7 1015.4 1225.0 991.0 1227.6 983.4C1230.2 975.8 1233.9 966.8 1236.3 965.3C1238.7 963.8 1240.1 983.0 1242.2 974.5C1244.3 966.1 1246.9 919.7 1248.9 914.5C1250.9 909.3 1251.5 937.6 1254.0 943.3C1256.5 949.1 1261.2 943.4 1263.8 948.9C1266.5 954.5 1267.8 973.0 1269.8 976.8C1271.7 980.5 1273.9 976.8 1275.7 971.3C1277.4 965.8 1278.4 952.2 1280.4 943.7C1282.4 935.2 1284.0 921.8 1287.5 920.3C1291.0 918.8 1297.6 928.9 1301.3 934.7C1304.9 940.5 1307.0 961.7 1309.1 955.3C1311.3 948.9 1312.3 887.3 1314.3 896.4C1316.2 905.6 1318.3 1005.2 1320.9 1010.2C1323.6 1015.1 1327.4 931.5 1330.0 926.2C1332.6 921.0 1333.8 973.7 1336.7 978.8C1339.6 983.9 1344.0 955.2 1347.3 957.0C1350.6 958.8 1353.6 993.0 1356.4 989.8C1359.2 986.6 1362.1 940.8 1364.3 937.9C1366.4 935.0 1367.4 982.5 1369.4 972.3C1371.4 962.1 1373.2 880.1 1376.1 876.6C1379.0 873.1 1383.4 931.5 1386.7 951.2C1390.0 970.9 1393.1 996.9 1395.8 994.7C1398.4 992.6 1400.5 951.5 1402.5 938.3C1404.4 925.2 1405.6 917.8 1407.6 915.9C1409.6 914.0 1411.7 916.4 1414.3 926.7C1416.9 937.1 1420.5 972.8 1423.3 978.0C1426.2 983.3 1428.8 961.0 1431.2 958.4C1433.6 955.8 1434.4 969.3 1437.9 962.4C1441.4 955.6 1447.9 913.1 1452.1 917.5C1456.2 921.9 1459.8 984.3 1462.7 988.6C1465.6 993.0 1468.3 950.9 1469.4 943.3" fill="none" stroke="#f0c23c" stroke-width="3.8" stroke-linejoin="round"/>
<path d="M545.9 740.9C546.9 739.1 549.8 752.1 551.8 729.9C553.8 707.6 555.7 630.1 557.7 607.6C559.7 585.1 561.8 593.6 563.6 595.0C565.4 596.3 566.5 579.2 568.3 615.5C570.2 651.8 572.8 789.0 574.6 812.7C576.5 836.4 577.6 791.8 579.4 757.5C581.1 723.2 583.4 619.3 585.3 606.8C587.1 594.3 588.4 668.6 590.4 682.5C592.3 696.5 595.0 685.2 597.1 690.4C599.2 695.7 601.2 714.1 603.0 714.1C604.7 714.1 605.9 680.6 607.7 690.4C609.5 700.3 611.5 786.4 614.0 773.3C616.5 760.1 620.4 636.5 622.7 611.5C624.9 586.5 625.1 595.8 627.4 623.4C629.7 651.0 634.1 751.6 636.4 777.2C638.8 802.8 639.3 790.2 641.5 777.2C643.8 764.2 647.5 703.2 650.2 699.1C653.0 695.0 654.9 758.8 658.1 752.8C661.2 746.7 664.5 647.9 669.1 662.8C673.7 677.7 681.9 833.1 685.6 842.3C689.4 851.5 689.7 740.1 691.5 718.0C693.4 696.0 695.0 725.4 696.7 710.1C698.3 694.9 699.4 634.1 701.4 626.5C703.3 619.0 706.5 658.1 708.5 664.8C710.4 671.5 711.4 653.3 713.2 666.8C715.0 680.2 717.3 740.4 719.1 745.6C720.9 750.9 721.6 692.4 724.2 698.3C726.8 704.2 731.9 793.0 734.8 781.2C737.7 769.3 739.2 631.3 741.5 627.3C743.8 623.4 745.8 741.7 748.6 757.5C751.4 773.3 755.5 731.2 758.4 722.0C761.4 712.8 764.0 699.6 766.3 702.3C768.6 704.9 770.1 743.7 772.2 737.8C774.3 731.8 776.2 663.5 778.9 666.8C781.7 670.0 785.0 759.5 788.8 757.5C792.6 755.5 797.9 689.8 801.7 654.9C805.5 620.1 809.0 543.2 811.6 548.4C814.2 553.7 815.7 686.5 817.5 686.5C819.3 686.5 820.6 552.4 822.6 548.4C824.6 544.5 827.2 631.9 829.3 662.8C831.4 693.7 832.4 712.8 835.2 733.8C838.0 754.9 843.5 788.3 846.2 789.0C849.0 789.8 850.3 747.0 851.7 738.5C853.2 730.1 852.7 748.2 854.9 738.5C857.0 728.9 861.6 699.1 864.7 680.6C867.9 662.0 870.7 623.7 873.8 627.3C876.9 630.9 880.6 704.9 883.2 702.3C885.8 699.6 886.9 604.3 889.5 611.5C892.1 618.8 896.2 752.9 899.0 745.6C901.7 738.4 903.6 573.4 906.0 568.1C908.5 562.9 911.3 700.9 913.9 714.1C916.5 727.2 919.5 636.5 921.8 647.0C924.1 657.6 925.4 779.2 927.7 777.2C930.0 775.2 933.3 656.2 935.6 635.2C937.9 614.2 938.2 628.6 941.5 651.0C944.8 673.3 952.0 767.3 955.2 769.3C958.5 771.3 959.2 676.6 961.2 662.8C963.1 649.0 965.0 685.2 967.1 686.5C969.2 687.8 970.9 669.7 973.7 670.7C976.6 671.7 981.0 695.7 984.0 692.4C987.0 689.1 988.4 661.8 991.9 651.0C995.3 640.1 1001.5 615.5 1004.7 627.3C1007.9 639.1 1008.9 720.7 1011.0 722.0C1013.2 723.3 1015.8 652.2 1017.7 635.2C1019.7 618.2 1021.2 622.2 1022.8 620.2C1024.5 618.2 1025.8 597.9 1027.6 623.4C1029.3 648.9 1031.8 741.0 1033.5 773.3C1035.1 805.5 1035.6 842.3 1037.4 816.7C1039.2 791.0 1042.1 644.4 1044.1 619.4C1046.1 594.4 1047.4 669.1 1049.2 666.8C1051.1 664.5 1052.8 606.3 1055.1 605.6C1057.4 605.0 1060.4 644.1 1063.0 662.8C1065.6 681.5 1068.6 719.4 1070.9 718.0C1073.2 716.7 1074.8 680.9 1076.8 654.9C1078.8 629.0 1080.9 549.1 1082.7 562.2C1084.5 575.4 1085.5 717.1 1087.4 733.8C1089.4 750.6 1091.7 689.8 1094.5 662.8C1097.3 635.9 1101.6 563.5 1104.4 572.1C1107.1 580.6 1108.4 702.6 1111.1 714.1C1113.7 725.6 1117.6 651.0 1120.1 641.1C1122.6 631.3 1124.0 630.3 1126.0 654.9C1128.0 679.6 1130.0 789.7 1131.9 789.0C1133.9 788.4 1135.9 675.6 1137.8 651.0C1139.8 626.3 1141.4 637.8 1143.7 641.1C1146.0 644.4 1149.0 670.4 1151.6 670.7C1154.2 671.0 1157.2 641.1 1159.5 643.1C1161.8 645.1 1163.4 681.9 1165.4 682.5C1167.4 683.2 1169.3 653.6 1171.3 647.0C1173.3 640.5 1175.4 648.0 1177.2 643.1C1179.0 638.2 1180.3 618.8 1181.9 617.4C1183.6 616.1 1185.2 639.5 1187.1 635.2C1188.9 630.9 1191.2 569.5 1193.0 591.8C1194.7 614.2 1195.8 765.4 1197.7 769.3C1199.5 773.3 1202.0 630.6 1204.0 615.5C1206.0 600.4 1207.7 671.4 1209.5 678.6C1211.3 685.8 1212.8 642.4 1214.6 658.9C1216.5 675.3 1218.4 774.9 1220.5 777.2C1222.7 779.5 1225.0 700.0 1227.6 672.7C1230.2 645.4 1233.9 604.3 1236.3 613.5C1238.7 622.7 1240.1 725.9 1242.2 727.9C1244.3 729.9 1246.9 638.2 1248.9 625.3C1250.9 612.5 1251.5 653.3 1254.0 651.0C1256.5 648.7 1261.2 598.4 1263.8 611.5C1266.5 624.7 1267.8 720.7 1269.8 729.9C1271.7 739.1 1273.9 669.4 1275.7 666.8C1277.4 664.1 1278.4 726.6 1280.4 714.1C1282.4 701.6 1284.0 591.1 1287.5 591.8C1291.0 592.5 1297.6 696.0 1301.3 718.0C1304.9 740.1 1307.0 750.6 1309.1 724.0C1311.3 697.3 1312.3 550.1 1314.3 558.3C1316.2 566.5 1318.3 760.8 1320.9 773.3C1323.6 785.8 1327.4 641.8 1330.0 633.2C1332.6 624.7 1333.8 719.0 1336.7 722.0C1339.6 724.9 1344.0 639.8 1347.3 651.0C1350.6 662.2 1353.6 774.6 1356.4 789.0C1359.2 803.5 1362.1 742.4 1364.3 737.8C1366.4 733.2 1367.4 786.4 1369.4 761.4C1371.4 736.4 1373.2 595.8 1376.1 587.9C1379.0 580.0 1383.4 694.7 1386.7 714.1C1390.0 733.5 1393.1 723.0 1395.8 704.2C1398.4 685.5 1400.5 603.3 1402.5 601.7C1404.4 600.0 1405.6 687.8 1407.6 694.4C1409.6 700.9 1411.7 631.6 1414.3 641.1C1416.9 650.6 1420.5 748.0 1423.3 751.6C1426.2 755.2 1428.8 669.1 1431.2 662.8C1433.6 656.6 1434.4 723.6 1437.9 714.1C1441.4 704.6 1447.9 599.7 1452.1 605.6C1456.2 611.5 1459.8 742.7 1462.7 749.6C1465.6 756.5 1468.3 664.1 1469.4 647.0" fill="none" stroke="#8d40cc" stroke-width="3.8" stroke-linejoin="round"/>
<path d="M545.9 649.5 L547.9 584.7 L549.9 664.2 L551.8 583.7 L553.8 556.5 L555.8 563.0 L557.7 542.3 L559.7 571.7 L561.7 537.6 L563.6 451.3 L565.2 495.3 L566.8 534.2 L568.3 540.3 L570.5 552.9 L572.6 648.3 L574.6 630.8 L576.2 655.8 L577.8 630.6 L579.4 619.0 L581.4 645.7 L583.3 505.3 L585.3 499.8 L587.0 481.6 L588.7 564.7 L590.4 654.0 L592.7 576.7 L594.9 597.3 L597.1 590.5 L599.1 626.3 L601.0 579.4 L603.0 632.3 L604.6 580.0 L606.1 583.7 L607.7 645.9 L609.8 593.7 L611.9 538.7 L614.0 623.7 L616.9 616.6 L619.8 573.1 L622.7 565.5 L624.3 543.1 L625.8 542.8 L627.4 533.0 L630.5 502.7 L633.4 577.0 L636.4 685.4 L638.2 686.5 L639.9 719.1 L641.5 634.1 L644.5 587.5 L647.4 679.2 L650.2 565.9 L652.9 577.4 L655.5 646.3 L658.1 663.9 L661.8 672.5 L665.5 599.1 L669.1 570.4 L674.7 599.6 L680.2 635.3 L685.6 721.7 L687.6 656.1 L689.6 601.2 L691.5 607.8 L693.3 611.0 L695.0 637.1 L696.7 604.2 L698.3 598.0 L699.8 578.3 L701.4 590.4 L703.8 619.2 L706.1 550.1 L708.5 526.8 L710.1 467.4 L711.6 517.7 L713.2 498.9 L715.2 667.3 L717.1 609.8 L719.1 664.8 L720.8 662.8 L722.5 656.6 L724.2 641.2 L727.8 643.6 L731.3 646.0 L734.8 536.7 L737.1 623.9 L739.3 512.2 L741.5 553.9 L743.9 558.3 L746.3 556.0 L748.6 604.3 L752.0 632.5 L755.2 569.0 L758.4 594.2 L761.1 622.8 L763.7 650.8 L766.3 585.7 L768.3 612.5 L770.3 573.0 L772.2 580.8 L774.5 597.9 L776.7 573.7 L778.9 526.7 L782.3 595.2 L785.5 654.8 L788.8 489.8 L793.2 631.0 L797.5 532.2 L801.7 489.1 L805.1 524.5 L808.3 599.7 L811.6 464.7 L813.6 482.1 L815.5 479.4 L817.5 654.4 L819.2 616.2 L820.9 442.4 L822.6 467.4 L824.9 484.1 L827.1 546.2 L829.3 569.5 L831.3 556.2 L833.3 621.5 L835.2 630.3 L838.9 568.6 L842.6 651.9 L846.2 597.6 L848.1 552.8 L849.9 594.2 L851.7 626.5 L852.8 497.3 L853.8 627.7 L854.9 685.9 L858.2 540.6 L861.5 564.7 L864.7 424.7 L867.8 527.1 L870.8 531.7 L873.8 505.4 L877.0 573.8 L880.1 521.1 L883.2 675.0 L885.4 577.3 L887.4 528.0 L889.5 531.3 L892.7 581.6 L895.8 530.0 L899.0 608.1 L901.4 577.8 L903.7 571.3 L906.0 454.1 L908.7 532.8 L911.3 534.5 L913.9 565.9 L916.6 605.1 L919.2 587.1 L921.8 625.9 L923.8 516.9 L925.7 645.6 L927.7 683.0 L930.4 613.4 L933.0 586.5 L935.6 477.6 L937.6 592.0 L939.5 543.0 L941.5 593.1 L946.2 490.0 L950.7 604.7 L955.2 670.0 L957.3 576.9 L959.2 536.9 L961.2 563.9 L963.2 522.0 L965.1 576.0 L967.1 592.6 L969.3 536.2 L971.5 475.6 L973.7 527.1 L977.2 560.5 L980.6 599.6 L984.0 564.6 L986.7 549.9 L989.3 580.7 L991.9 567.3 L996.2 541.9 L1000.5 518.7 L1004.7 625.0 L1006.9 539.0 L1008.9 524.6 L1011.0 572.7 L1013.3 583.4 L1015.5 490.4 L1017.7 493.9 L1019.5 525.3 L1021.2 602.1 L1022.8 486.1 L1024.4 501.5 L1026.0 534.6 L1027.6 568.6 L1029.6 555.0 L1031.5 558.1 L1033.5 663.1 L1034.8 620.3 L1036.1 634.8 L1037.4 658.6 L1039.7 663.9 L1041.9 560.8 L1044.1 513.5 L1045.8 571.7 L1047.5 560.4 L1049.2 485.7 L1051.2 497.5 L1053.2 592.2 L1055.1 475.6 L1057.8 427.3 L1060.4 570.5 L1063.0 573.2 L1065.7 529.4 L1068.3 601.8 L1070.9 548.8 L1072.9 610.0 L1074.8 597.8 L1076.8 585.1 L1078.8 546.3 L1080.7 531.0 L1082.7 486.9 L1084.3 518.9 L1085.9 548.4 L1087.4 665.3 L1089.8 565.4 L1092.2 590.1 L1094.5 566.7 L1097.9 506.6 L1101.1 497.8 L1104.4 421.5 L1106.6 542.0 L1108.8 537.6 L1111.1 608.9 L1114.1 618.1 L1117.1 500.8 L1120.1 546.6 L1122.1 593.6 L1124.1 569.4 L1126.0 588.7 L1128.0 582.8 L1130.0 565.4 L1131.9 656.8 L1133.9 567.5 L1135.9 588.1 L1137.8 584.1 L1139.8 567.7 L1141.8 506.2 L1143.7 576.7 L1146.4 604.4 L1149.0 590.7 L1151.6 522.8 L1154.3 594.5 L1156.9 521.9 L1159.5 524.5 L1161.5 494.3 L1163.4 545.7 L1165.4 583.7 L1167.4 599.3 L1169.4 604.9 L1171.3 552.3 L1173.3 553.6 L1175.3 567.0 L1177.2 478.8 L1178.8 512.4 L1180.4 540.8 L1181.9 546.1 L1183.7 545.7 L1185.4 641.4 L1187.1 484.7 L1189.1 526.3 L1191.0 526.8 L1193.0 530.1 L1194.6 610.5 L1196.1 608.1 L1197.7 574.5 L1199.8 599.0 L1201.9 529.9 L1204.0 517.4 L1205.9 575.7 L1207.7 558.2 L1209.5 603.9 L1211.2 545.0 L1212.9 497.3 L1214.6 569.5 L1216.6 616.2 L1218.6 638.0 L1220.5 644.1 L1222.9 560.8 L1225.3 552.4 L1227.6 580.9 L1230.6 534.4 L1233.4 542.0 L1236.3 551.6 L1238.3 553.4 L1240.2 655.5 L1242.2 637.7 L1244.5 529.9 L1246.7 566.8 L1248.9 461.3 L1250.6 538.3 L1252.3 540.2 L1254.0 576.9 L1257.3 557.2 L1260.6 555.2 L1263.8 518.1 L1265.9 468.5 L1267.8 574.4 L1269.8 506.4 L1271.8 494.0 L1273.7 550.2 L1275.7 564.6 L1277.3 589.0 L1278.8 606.7 L1280.4 571.5 L1282.8 503.0 L1285.1 512.0 L1287.5 468.5 L1292.2 548.0 L1296.7 583.1 L1301.3 573.3 L1303.9 649.1 L1306.5 701.8 L1309.1 572.4 L1310.9 562.5 L1312.6 563.9 L1314.3 506.5 L1316.5 566.6 L1318.7 613.5 L1320.9 679.9 L1324.0 568.8 L1327.0 537.4 L1330.0 576.7 L1332.3 544.6 L1334.5 586.3 L1336.7 541.5 L1340.3 486.0 L1343.8 595.8 L1347.3 594.2 L1350.4 604.9 L1353.4 534.3 L1356.4 611.9 L1359.1 603.3 L1361.7 637.6 L1364.3 572.2 L1366.0 640.4 L1367.7 583.6 L1369.4 637.4 L1371.7 620.8 L1373.9 560.2 L1376.1 504.7 L1379.7 567.0 L1383.2 555.3 L1386.7 510.6 L1389.8 634.7 L1392.8 519.9 L1395.8 600.3 L1398.0 457.2 L1400.3 523.1 L1402.5 539.0 L1404.2 538.5 L1405.9 567.9 L1407.6 612.8 L1409.9 604.9 L1412.1 543.7 L1414.3 568.9 L1417.4 564.6 L1420.3 634.8 L1423.3 581.6 L1426.0 628.6 L1428.6 524.9 L1431.2 604.2 L1433.5 580.4 L1435.7 635.6 L1437.9 540.2 L1442.7 617.5 L1447.4 578.2 L1452.1 485.1 L1455.7 592.9 L1459.2 542.0 L1462.7 511.0 L1465.0 633.8 L1467.2 590.8" fill="none" stroke="#5ac8fa" stroke-width="3.8" stroke-linejoin="round"/>
<circle cx="801" cy="966" r="3.5" fill="#fff" stroke="#e04040" stroke-width="2"/><circle cx="1461" cy="778" r="4" fill="#fff" stroke="#e040c0" stroke-width="2.2"/>
</svg>
<div class="t" style="left:509.5px;top:380.2px;font-size:25px;color:#999;font-weight:normal;transform:translateX(-100%);">40k</div>
<div class="t" style="left:509.5px;top:477.1px;font-size:25px;color:#999;font-weight:normal;transform:translateX(-100%);">35k</div>
<div class="t" style="left:509.5px;top:573.9px;font-size:25px;color:#999;font-weight:normal;transform:translateX(-100%);">30k</div>
<div class="t" style="left:509.5px;top:670.8px;font-size:25px;color:#999;font-weight:normal;transform:translateX(-100%);">25k</div>
<div class="t" style="left:509.5px;top:767.6px;font-size:25px;color:#999;font-weight:normal;transform:translateX(-100%);">20k</div>
<div class="t" style="left:509.5px;top:864.5px;font-size:25px;color:#999;font-weight:normal;transform:translateX(-100%);">15k</div>
<div class="t" style="left:509.5px;top:961.3px;font-size:25px;color:#999;font-weight:normal;transform:translateX(-100%);">10k</div>
<div class="t" style="left:509.5px;top:1058.1px;font-size:25px;color:#999;font-weight:normal;transform:translateX(-100%);">5k</div>
<div class="t" style="left:723.4px;top:1089.8px;font-size:25px;color:#999;font-weight:normal;transform:translateX(-50%);">00:00</div>
<div class="t" style="left:723.4px;top:1119.8px;font-size:25px;color:#999;font-weight:normal;transform:translateX(-50%);">01<span style="margin:0 -2px">–</span>14</div>
<div class="t" style="left:987.5px;top:1089.8px;font-size:25px;color:#999;font-weight:normal;transform:translateX(-50%);">00:00</div>
<div class="t" style="left:987.5px;top:1119.8px;font-size:25px;color:#999;font-weight:normal;transform:translateX(-50%);">01<span style="margin:0 -2px">–</span>16</div>
<div class="t" style="left:1252.4px;top:1089.8px;font-size:25px;color:#999;font-weight:normal;transform:translateX(-50%);">00:00</div>
<div class="t" style="left:1252.4px;top:1119.8px;font-size:25px;color:#999;font-weight:normal;transform:translateX(-50%);">01<span style="margin:0 -2px">–</span>18</div>
<div class="t" style="left:444px;top:732px;font-size:24px;color:#666;transform:translate(-50%,-50%) rotate(-90deg)">响应时间(ms)</div>
<div class="abs" style="left:502px;top:1201px;width:32px;height:4px;background:#5ac8fa"></div>
<div class="t" style="left:545.0px;top:1191.3px;font-size:25px;color:#555;font-weight:normal;">com.bonree.generateapm.job.VisitJob.visit</div>
<div class="abs" style="left:1052px;top:1201px;width:32px;height:4px;background:#ef8b35"></div>
<div class="t" style="left:1095.0px;top:1191.3px;font-size:25px;color:#555;font-weight:normal;">APMController.getData227</div>
<div class="abs" style="left:502px;top:1243px;width:32px;height:4px;background:#45a043"></div>
<div class="t" style="left:545.0px;top:1233.6px;font-size:25px;color:#555;font-weight:normal;">APMController.getData2292</div>
<div class="abs" style="left:897px;top:1243px;width:32px;height:4px;background:#cccccc"></div>
<div class="t" style="left:940.0px;top:1233.6px;font-size:25px;color:#ccc;font-weight:normal;">APMController.getData229</div>
<div class="abs" style="left:502px;top:1285px;width:32px;height:4px;background:#f0c23c"></div>
<div class="t" style="left:545.0px;top:1275.2px;font-size:25px;color:#555;font-weight:normal;">APMController.getData2272</div>
<div class="abs" style="left:897px;top:1285px;width:32px;height:4px;background:#8d40cc"></div>
<div class="t" style="left:940.0px;top:1275.2px;font-size:25px;color:#555;font-weight:normal;">APMController.getData2271</div>
<svg class="abs" style="left:0;top:0" width="3896" height="1998">
<path d="M502 1335.5 L514 1312.5 L526 1335.5 Z" fill="#ccc"/><path d="M574.5 1312 L598 1312 L586.2 1335.5 Z" fill="#44546a"/></svg>
<div class="t" style="left:531.0px;top:1310.8px;font-size:25px;color:#333;font-weight:normal;">1/3</div>
<div class="abs" style="left:1542px;top:270px;width:1133px;height:1108px;background:#fff;border-radius:10px;box-shadow:0 0 5px 1px rgba(0,0,0,0.07)"></div>
<div class="abs" style="left:1542px;top:342px;width:1133px;height:2px;background:#e5e6e9"></div>
<div class="abs" style="left:1572px;top:300px;width:14px;height:14px;border-radius:50%;background:#5bc8d6"></div>
<div class="t" style="left:1597.0px;top:294.2px;font-size:24px;color:#333;font-weight:normal;">全部服务-错误-错误请求趋势</div>
<svg class="abs" style="left:0;top:0" width="3896" height="1998">
<g stroke="#d2d2d2" stroke-width="2" stroke-dasharray="2 2" fill="none">
<line x1="1678" y1="392.8" x2="2631" y2="392.8"/>
<line x1="1678" y1="491.9" x2="2631" y2="491.9"/>
<line x1="1678" y1="591.1" x2="2631" y2="591.1"/>
<line x1="1678" y1="690.2" x2="2631" y2="690.2"/>
<line x1="1678" y1="789.4" x2="2631" y2="789.4"/>
<line x1="1678" y1="888.5" x2="2631" y2="888.5"/>
<line x1="1678" y1="987.7" x2="2631" y2="987.7"/>
<line x1="1678" y1="1086.8" x2="2631" y2="1086.8"/>
<line x1="1867.2" y1="392.8" x2="1867.2" y2="1186.0"/>
<line x1="2135.1" y1="392.8" x2="2135.1" y2="1186.0"/>
<line x1="2401.5" y1="392.8" x2="2401.5" y2="1186.0"/>
</g>
<line x1="1678" y1="1186.0" x2="2631" y2="1186.0" stroke="#c8c8c8" stroke-width="2"/>
<rect x="1686.9" y="663.5" width="4.2" height="522.5" fill="#5bbff8"/>
<rect x="1686.9" y="663.5" width="4.2" height="4.0" fill="#e8432e"/>
<rect x="1692.5" y="598.0" width="4.2" height="588.0" fill="#5bbff8"/>
<rect x="1692.5" y="598.0" width="4.2" height="5.75" fill="#e8432e"/>
<rect x="1698.0" y="672.4" width="4.2" height="513.6" fill="#5bbff8"/>
<rect x="1698.0" y="672.4" width="4.2" height="4.0" fill="#e8432e"/>
<rect x="1703.6" y="680.3" width="4.2" height="505.7" fill="#5bbff8"/>
<rect x="1703.6" y="680.3" width="4.2" height="4.0" fill="#e8432e"/>
<rect x="1709.2" y="692.2" width="4.2" height="493.8" fill="#5bbff8"/>
<rect x="1709.2" y="692.2" width="4.2" height="4.0" fill="#e8432e"/>
<rect x="1714.8" y="718.0" width="4.2" height="468.0" fill="#5bbff8"/>
<rect x="1720.3" y="731.9" width="4.2" height="454.1" fill="#5bbff8"/>
<rect x="1725.9" y="763.6" width="4.2" height="422.4" fill="#5bbff8"/>
<rect x="1731.5" y="729.9" width="4.2" height="456.1" fill="#5bbff8"/>
<rect x="1731.5" y="729.9" width="4.2" height="4.0" fill="#e8432e"/>
<rect x="1737.1" y="710.1" width="4.2" height="475.9" fill="#5bbff8"/>
<rect x="1737.1" y="710.1" width="4.2" height="4.0" fill="#e8432e"/>
<rect x="1742.6" y="678.4" width="4.2" height="507.6" fill="#5bbff8"/>
<rect x="1742.6" y="678.4" width="4.2" height="4.0" fill="#e8432e"/>
<rect x="1748.2" y="739.8" width="4.2" height="446.2" fill="#5bbff8"/>
<rect x="1748.2" y="739.8" width="4.2" height="4.0" fill="#e8432e"/>
<rect x="1753.8" y="674.4" width="4.2" height="511.6" fill="#5bbff8"/>
<rect x="1753.8" y="674.4" width="4.2" height="4.0" fill="#e8432e"/>
<rect x="1759.4" y="684.3" width="4.2" height="501.7" fill="#5bbff8"/>
<rect x="1759.4" y="684.3" width="4.2" height="4.0" fill="#e8432e"/>
<rect x="1764.9" y="692.2" width="4.2" height="493.8" fill="#5bbff8"/>
<rect x="1764.9" y="692.2" width="4.2" height="4.0" fill="#e8432e"/>
<rect x="1770.5" y="688.3" width="4.2" height="497.7" fill="#5bbff8"/>
<rect x="1770.5" y="688.3" width="4.2" height="4.0" fill="#e8432e"/>
<rect x="1776.1" y="668.4" width="4.2" height="517.6" fill="#5bbff8"/>
<rect x="1776.1" y="668.4" width="4.2" height="4.0" fill="#e8432e"/>
<rect x="1781.7" y="700.2" width="4.2" height="485.8" fill="#5bbff8"/>
<rect x="1781.7" y="700.2" width="4.2" height="4.0" fill="#e8432e"/>
<rect x="1787.2" y="540.5" width="4.2" height="645.5" fill="#5bbff8"/>
<rect x="1787.2" y="540.5" width="4.2" height="5.75" fill="#e8432e"/>
<rect x="1792.8" y="459.2" width="4.2" height="726.8" fill="#5bbff8"/>
<rect x="1792.8" y="459.2" width="4.2" height="8.6" fill="#e8432e"/>
<rect x="1798.4" y="668.4" width="4.2" height="517.6" fill="#5bbff8"/>
<rect x="1798.4" y="668.4" width="4.2" height="4.0" fill="#e8432e"/>
<rect x="1804.0" y="650.6" width="4.2" height="535.4" fill="#5bbff8"/>
<rect x="1804.0" y="650.6" width="4.2" height="4.0" fill="#e8432e"/>
<rect x="1809.5" y="670.4" width="4.2" height="515.6" fill="#5bbff8"/>
<rect x="1809.5" y="670.4" width="4.2" height="4.0" fill="#e8432e"/>
<rect x="1815.1" y="660.5" width="4.2" height="525.5" fill="#5bbff8"/>
<rect x="1815.1" y="660.5" width="4.2" height="4.0" fill="#e8432e"/>
<rect x="1820.7" y="586.1" width="4.2" height="599.9" fill="#5bbff8"/>
<rect x="1820.7" y="586.1" width="4.2" height="8" fill="#e8432e"/>
<rect x="1826.3" y="660.5" width="4.2" height="525.5" fill="#5bbff8"/>
<rect x="1826.3" y="660.5" width="4.2" height="4.0" fill="#e8432e"/>
<rect x="1831.8" y="684.3" width="4.2" height="501.7" fill="#5bbff8"/>
<rect x="1831.8" y="684.3" width="4.2" height="4.0" fill="#e8432e"/>
<rect x="1837.4" y="708.1" width="4.2" height="477.9" fill="#5bbff8"/>
<rect x="1837.4" y="708.1" width="4.2" height="4.0" fill="#e8432e"/>
<rect x="1843.0" y="692.2" width="4.2" height="493.8" fill="#5bbff8"/>
<rect x="1843.0" y="692.2" width="4.2" height="4.0" fill="#e8432e"/>
<rect x="1848.6" y="684.3" width="4.2" height="501.7" fill="#5bbff8"/>
<rect x="1848.6" y="684.3" width="4.2" height="4.0" fill="#e8432e"/>
<rect x="1854.1" y="690.2" width="4.2" height="495.8" fill="#5bbff8"/>
<rect x="1854.1" y="690.2" width="4.2" height="4.0" fill="#e8432e"/>
<rect x="1859.7" y="724.0" width="4.2" height="462.0" fill="#5bbff8"/>
<rect x="1859.7" y="724.0" width="4.2" height="4.0" fill="#e8432e"/>
<rect x="1865.3" y="720.0" width="4.2" height="466.0" fill="#5bbff8"/>
<rect x="1865.3" y="720.0" width="4.2" height="4.0" fill="#e8432e"/>
<rect x="1870.9" y="672.4" width="4.2" height="513.6" fill="#5bbff8"/>
<rect x="1870.9" y="672.4" width="4.2" height="4.0" fill="#e8432e"/>
<rect x="1876.4" y="668.4" width="4.2" height="517.6" fill="#5bbff8"/>
<rect x="1876.4" y="668.4" width="4.2" height="4.0" fill="#e8432e"/>
<rect x="1882.0" y="735.9" width="4.2" height="450.1" fill="#5bbff8"/>
<rect x="1887.6" y="739.8" width="4.2" height="446.2" fill="#5bbff8"/>
<rect x="1893.2" y="725.9" width="4.2" height="460.1" fill="#5bbff8"/>
<rect x="1893.2" y="725.9" width="4.2" height="4.0" fill="#e8432e"/>
<rect x="1898.7" y="680.3" width="4.2" height="505.7" fill="#5bbff8"/>
<rect x="1898.7" y="680.3" width="4.2" height="4.0" fill="#e8432e"/>
<rect x="1904.3" y="720.0" width="4.2" height="466.0" fill="#5bbff8"/>
<rect x="1904.3" y="720.0" width="4.2" height="4.0" fill="#e8432e"/>
<rect x="1909.9" y="733.9" width="4.2" height="452.1" fill="#5bbff8"/>
<rect x="1909.9" y="733.9" width="4.2" height="4.0" fill="#e8432e"/>
<rect x="1915.5" y="676.4" width="4.2" height="509.6" fill="#5bbff8"/>
<rect x="1915.5" y="676.4" width="4.2" height="4.0" fill="#e8432e"/>
<rect x="1921.0" y="700.2" width="4.2" height="485.8" fill="#5bbff8"/>
<rect x="1921.0" y="700.2" width="4.2" height="4.0" fill="#e8432e"/>
<rect x="1926.6" y="686.3" width="4.2" height="499.7" fill="#5bbff8"/>
<rect x="1926.6" y="686.3" width="4.2" height="4.0" fill="#e8432e"/>
<rect x="1932.2" y="674.4" width="4.2" height="511.6" fill="#5bbff8"/>
<rect x="1932.2" y="674.4" width="4.2" height="4.0" fill="#e8432e"/>
<rect x="1937.8" y="680.3" width="4.2" height="505.7" fill="#5bbff8"/>
<rect x="1937.8" y="680.3" width="4.2" height="4.0" fill="#e8432e"/>
<rect x="1943.3" y="519.7" width="4.2" height="666.3" fill="#5bbff8"/>
<rect x="1943.3" y="519.7" width="4.2" height="15.8" fill="#e8432e"/>
<rect x="1948.9" y="444.4" width="4.2" height="741.6" fill="#5bbff8"/>
<rect x="1948.9" y="444.4" width="4.2" height="22" fill="#e8432e"/>
<rect x="1954.5" y="733.9" width="4.2" height="452.1" fill="#5bbff8"/>
<rect x="1960.1" y="688.3" width="4.2" height="497.7" fill="#5bbff8"/>
<rect x="1960.1" y="688.3" width="4.2" height="4.0" fill="#e8432e"/>
<rect x="1965.6" y="694.2" width="4.2" height="491.8" fill="#5bbff8"/>
<rect x="1965.6" y="694.2" width="4.2" height="4.0" fill="#e8432e"/>
<rect x="1971.2" y="694.2" width="4.2" height="491.8" fill="#5bbff8"/>
<rect x="1971.2" y="694.2" width="4.2" height="4.0" fill="#e8432e"/>
<rect x="1976.8" y="725.9" width="4.2" height="460.1" fill="#5bbff8"/>
<rect x="1982.4" y="698.2" width="4.2" height="487.8" fill="#5bbff8"/>
<rect x="1982.4" y="698.2" width="4.2" height="4.0" fill="#e8432e"/>
<rect x="1987.9" y="702.1" width="4.2" height="483.9" fill="#5bbff8"/>
<rect x="1987.9" y="702.1" width="4.2" height="4.0" fill="#e8432e"/>
<rect x="1993.5" y="674.4" width="4.2" height="511.6" fill="#5bbff8"/>
<rect x="1993.5" y="674.4" width="4.2" height="4.0" fill="#e8432e"/>
<rect x="1999.1" y="704.1" width="4.2" height="481.9" fill="#5bbff8"/>
<rect x="1999.1" y="704.1" width="4.2" height="4.0" fill="#e8432e"/>
<rect x="2004.7" y="714.0" width="4.2" height="472.0" fill="#5bbff8"/>
<rect x="2004.7" y="714.0" width="4.2" height="4.0" fill="#e8432e"/>
<rect x="2010.2" y="700.2" width="4.2" height="485.8" fill="#5bbff8"/>
<rect x="2010.2" y="700.2" width="4.2" height="4.0" fill="#e8432e"/>
<rect x="2015.8" y="692.2" width="4.2" height="493.8" fill="#5bbff8"/>
<rect x="2015.8" y="692.2" width="4.2" height="4.0" fill="#e8432e"/>
<rect x="2021.4" y="690.2" width="4.2" height="495.8" fill="#5bbff8"/>
<rect x="2021.4" y="690.2" width="4.2" height="4.0" fill="#e8432e"/>
<rect x="2027.0" y="680.3" width="4.2" height="505.7" fill="#5bbff8"/>
<rect x="2027.0" y="680.3" width="4.2" height="4.0" fill="#e8432e"/>
<rect x="2032.5" y="700.2" width="4.2" height="485.8" fill="#5bbff8"/>
<rect x="2032.5" y="700.2" width="4.2" height="4.0" fill="#e8432e"/>
<rect x="2038.1" y="696.2" width="4.2" height="489.8" fill="#5bbff8"/>
<rect x="2038.1" y="696.2" width="4.2" height="4.0" fill="#e8432e"/>
<rect x="2043.7" y="747.8" width="4.2" height="438.2" fill="#5bbff8"/>
<rect x="2049.3" y="775.5" width="4.2" height="410.5" fill="#5bbff8"/>
<rect x="2054.8" y="769.6" width="4.2" height="416.4" fill="#5bbff8"/>
<rect x="2060.4" y="761.6" width="4.2" height="424.4" fill="#5bbff8"/>
<rect x="2066.0" y="771.6" width="4.2" height="414.4" fill="#5bbff8"/>
<rect x="2071.6" y="753.7" width="4.2" height="432.3" fill="#5bbff8"/>
<rect x="2077.1" y="763.6" width="4.2" height="422.4" fill="#5bbff8"/>
<rect x="2082.7" y="771.6" width="4.2" height="414.4" fill="#5bbff8"/>
<rect x="2088.3" y="763.6" width="4.2" height="422.4" fill="#5bbff8"/>
<rect x="2093.9" y="751.7" width="4.2" height="434.3" fill="#5bbff8"/>
<rect x="2099.4" y="759.7" width="4.2" height="426.3" fill="#5bbff8"/>
<rect x="2105.0" y="775.5" width="4.2" height="410.5" fill="#5bbff8"/>
<rect x="2110.6" y="765.6" width="4.2" height="420.4" fill="#5bbff8"/>
<rect x="2116.2" y="771.6" width="4.2" height="414.4" fill="#5bbff8"/>
<rect x="2121.7" y="767.6" width="4.2" height="418.4" fill="#5bbff8"/>
<rect x="2127.3" y="765.6" width="4.2" height="420.4" fill="#5bbff8"/>
<rect x="2132.9" y="767.6" width="4.2" height="418.4" fill="#5bbff8"/>
<rect x="2138.5" y="755.7" width="4.2" height="430.3" fill="#5bbff8"/>
<rect x="2144.0" y="727.9" width="4.2" height="458.1" fill="#5bbff8"/>
<rect x="2144.0" y="727.9" width="4.2" height="4.0" fill="#e8432e"/>
<rect x="2149.6" y="769.6" width="4.2" height="416.4" fill="#5bbff8"/>
<rect x="2155.2" y="769.6" width="4.2" height="416.4" fill="#5bbff8"/>
<rect x="2160.8" y="767.6" width="4.2" height="418.4" fill="#5bbff8"/>
<rect x="2166.3" y="739.8" width="4.2" height="446.2" fill="#5bbff8"/>
<rect x="2166.3" y="739.8" width="4.2" height="4.0" fill="#e8432e"/>
<rect x="2171.9" y="773.5" width="4.2" height="412.5" fill="#5bbff8"/>
<rect x="2177.5" y="761.6" width="4.2" height="424.4" fill="#5bbff8"/>
<rect x="2183.1" y="757.7" width="4.2" height="428.3" fill="#5bbff8"/>
<rect x="2188.6" y="775.5" width="4.2" height="410.5" fill="#5bbff8"/>
<rect x="2194.2" y="767.6" width="4.2" height="418.4" fill="#5bbff8"/>
<rect x="2199.8" y="773.5" width="4.2" height="412.5" fill="#5bbff8"/>
<rect x="2205.4" y="769.6" width="4.2" height="416.4" fill="#5bbff8"/>
<rect x="2210.9" y="761.6" width="4.2" height="424.4" fill="#5bbff8"/>
<rect x="2216.5" y="761.6" width="4.2" height="424.4" fill="#5bbff8"/>
<rect x="2222.1" y="771.6" width="4.2" height="414.4" fill="#5bbff8"/>
<rect x="2227.7" y="775.5" width="4.2" height="410.5" fill="#5bbff8"/>
<rect x="2233.2" y="729.9" width="4.2" height="456.1" fill="#5bbff8"/>
<rect x="2238.8" y="729.9" width="4.2" height="456.1" fill="#5bbff8"/>
<rect x="2238.8" y="729.9" width="4.2" height="4.0" fill="#e8432e"/>
<rect x="2244.4" y="775.5" width="4.2" height="410.5" fill="#5bbff8"/>
<rect x="2250.0" y="775.5" width="4.2" height="410.5" fill="#5bbff8"/>
<rect x="2255.5" y="761.6" width="4.2" height="424.4" fill="#5bbff8"/>
<rect x="2261.1" y="763.6" width="4.2" height="422.4" fill="#5bbff8"/>
<rect x="2266.7" y="769.6" width="4.2" height="416.4" fill="#5bbff8"/>
<rect x="2272.3" y="769.6" width="4.2" height="416.4" fill="#5bbff8"/>
<rect x="2277.8" y="743.8" width="4.2" height="442.2" fill="#5bbff8"/>
<rect x="2283.4" y="700.2" width="4.2" height="485.8" fill="#5bbff8"/>
<rect x="2283.4" y="700.2" width="4.2" height="4.0" fill="#e8432e"/>
<rect x="2289.0" y="771.6" width="4.2" height="414.4" fill="#5bbff8"/>
<rect x="2294.6" y="767.6" width="4.2" height="418.4" fill="#5bbff8"/>
<rect x="2300.1" y="720.0" width="4.2" height="466.0" fill="#5bbff8"/>
<rect x="2300.1" y="720.0" width="4.2" height="4.0" fill="#e8432e"/>
<rect x="2305.7" y="765.6" width="4.2" height="420.4" fill="#5bbff8"/>
<rect x="2311.3" y="765.6" width="4.2" height="420.4" fill="#5bbff8"/>
<rect x="2316.9" y="761.6" width="4.2" height="424.4" fill="#5bbff8"/>
<rect x="2316.9" y="761.6" width="4.2" height="4.0" fill="#e8432e"/>
<rect x="2322.4" y="761.6" width="4.2" height="424.4" fill="#5bbff8"/>
<rect x="2322.4" y="761.6" width="4.2" height="4.0" fill="#e8432e"/>
<rect x="2328.0" y="661.5" width="4.2" height="524.5" fill="#5bbff8"/>
<rect x="2328.0" y="661.5" width="4.2" height="4.0" fill="#e8432e"/>
<rect x="2333.6" y="739.8" width="4.2" height="446.2" fill="#5bbff8"/>
<rect x="2333.6" y="739.8" width="4.2" height="4.0" fill="#e8432e"/>
<rect x="2339.2" y="773.5" width="4.2" height="412.5" fill="#5bbff8"/>
<rect x="2344.7" y="735.9" width="4.2" height="450.1" fill="#5bbff8"/>
<rect x="2344.7" y="735.9" width="4.2" height="4.0" fill="#e8432e"/>
<rect x="2350.3" y="741.8" width="4.2" height="444.2" fill="#5bbff8"/>
<rect x="2350.3" y="741.8" width="4.2" height="4.0" fill="#e8432e"/>
<rect x="2355.9" y="727.9" width="4.2" height="458.1" fill="#5bbff8"/>
<rect x="2355.9" y="727.9" width="4.2" height="4.0" fill="#e8432e"/>
<rect x="2361.5" y="743.8" width="4.2" height="442.2" fill="#5bbff8"/>
<rect x="2361.5" y="743.8" width="4.2" height="4.0" fill="#e8432e"/>
<rect x="2367.0" y="753.7" width="4.2" height="432.3" fill="#5bbff8"/>
<rect x="2372.6" y="765.6" width="4.2" height="420.4" fill="#5bbff8"/>
<rect x="2378.2" y="767.6" width="4.2" height="418.4" fill="#5bbff8"/>
<rect x="2383.8" y="769.6" width="4.2" height="416.4" fill="#5bbff8"/>
<rect x="2389.3" y="759.7" width="4.2" height="426.3" fill="#5bbff8"/>
<rect x="2394.9" y="765.6" width="4.2" height="420.4" fill="#5bbff8"/>
<rect x="2400.5" y="773.5" width="4.2" height="412.5" fill="#5bbff8"/>
<rect x="2406.1" y="761.6" width="4.2" height="424.4" fill="#5bbff8"/>
<rect x="2406.1" y="761.6" width="4.2" height="4.0" fill="#e8432e"/>
<rect x="2411.6" y="720.0" width="4.2" height="466.0" fill="#5bbff8"/>
<rect x="2411.6" y="720.0" width="4.2" height="4.0" fill="#e8432e"/>
<rect x="2417.2" y="739.8" width="4.2" height="446.2" fill="#5bbff8"/>
<rect x="2417.2" y="739.8" width="4.2" height="4.0" fill="#e8432e"/>
<rect x="2422.8" y="765.6" width="4.2" height="420.4" fill="#5bbff8"/>
<rect x="2428.4" y="745.8" width="4.2" height="440.2" fill="#5bbff8"/>
<rect x="2428.4" y="745.8" width="4.2" height="4.0" fill="#e8432e"/>
<rect x="2433.9" y="751.7" width="4.2" height="434.3" fill="#5bbff8"/>
<rect x="2433.9" y="751.7" width="4.2" height="4.0" fill="#e8432e"/>
<rect x="2439.5" y="694.2" width="4.2" height="491.8" fill="#5bbff8"/>
<rect x="2439.5" y="694.2" width="4.2" height="4.0" fill="#e8432e"/>
<rect x="2445.1" y="684.3" width="4.2" height="501.7" fill="#5bbff8"/>
<rect x="2445.1" y="684.3" width="4.2" height="4.0" fill="#e8432e"/>
<rect x="2450.7" y="676.4" width="4.2" height="509.6" fill="#5bbff8"/>
<rect x="2450.7" y="676.4" width="4.2" height="4.0" fill="#e8432e"/>
<rect x="2456.2" y="694.2" width="4.2" height="491.8" fill="#5bbff8"/>
<rect x="2456.2" y="694.2" width="4.2" height="4.0" fill="#e8432e"/>
<rect x="2461.8" y="743.8" width="4.2" height="442.2" fill="#5bbff8"/>
<rect x="2461.8" y="743.8" width="4.2" height="4.0" fill="#e8432e"/>
<rect x="2467.4" y="743.8" width="4.2" height="442.2" fill="#5bbff8"/>
<rect x="2473.0" y="753.7" width="4.2" height="432.3" fill="#5bbff8"/>
<rect x="2478.5" y="708.1" width="4.2" height="477.9" fill="#5bbff8"/>
<rect x="2478.5" y="708.1" width="4.2" height="4.0" fill="#e8432e"/>
<rect x="2484.1" y="700.2" width="4.2" height="485.8" fill="#5bbff8"/>
<rect x="2484.1" y="700.2" width="4.2" height="4.0" fill="#e8432e"/>
<rect x="2489.7" y="745.8" width="4.2" height="440.2" fill="#5bbff8"/>
<rect x="2495.3" y="763.6" width="4.2" height="422.4" fill="#5bbff8"/>
<rect x="2495.3" y="763.6" width="4.2" height="4.0" fill="#e8432e"/>
<rect x="2500.8" y="763.6" width="4.2" height="422.4" fill="#5bbff8"/>
<rect x="2506.4" y="749.7" width="4.2" height="436.3" fill="#5bbff8"/>
<rect x="2512.0" y="763.6" width="4.2" height="422.4" fill="#5bbff8"/>
<rect x="2517.6" y="759.7" width="4.2" height="426.3" fill="#5bbff8"/>
<rect x="2523.1" y="775.5" width="4.2" height="410.5" fill="#5bbff8"/>
<rect x="2528.7" y="775.5" width="4.2" height="410.5" fill="#5bbff8"/>
<rect x="2534.3" y="753.7" width="4.2" height="432.3" fill="#5bbff8"/>
<rect x="2539.9" y="686.3" width="4.2" height="499.7" fill="#5bbff8"/>
<rect x="2539.9" y="686.3" width="4.2" height="4.0" fill="#e8432e"/>
<rect x="2545.4" y="674.4" width="4.2" height="511.6" fill="#5bbff8"/>
<rect x="2545.4" y="674.4" width="4.2" height="4.0" fill="#e8432e"/>
<rect x="2551.0" y="692.2" width="4.2" height="493.8" fill="#5bbff8"/>
<rect x="2551.0" y="692.2" width="4.2" height="4.0" fill="#e8432e"/>
<rect x="2556.6" y="737.8" width="4.2" height="448.2" fill="#5bbff8"/>
<rect x="2556.6" y="737.8" width="4.2" height="4.0" fill="#e8432e"/>
<rect x="2562.2" y="737.8" width="4.2" height="448.2" fill="#5bbff8"/>
<rect x="2562.2" y="737.8" width="4.2" height="4.0" fill="#e8432e"/>
<rect x="2567.7" y="722.0" width="4.2" height="464.0" fill="#5bbff8"/>
<rect x="2567.7" y="722.0" width="4.2" height="4.0" fill="#e8432e"/>
<rect x="2573.3" y="741.8" width="4.2" height="444.2" fill="#5bbff8"/>
<rect x="2573.3" y="741.8" width="4.2" height="4.0" fill="#e8432e"/>
<rect x="2578.9" y="767.6" width="4.2" height="418.4" fill="#5bbff8"/>
<rect x="2584.5" y="761.6" width="4.2" height="424.4" fill="#5bbff8"/>
<rect x="2590.0" y="741.8" width="4.2" height="444.2" fill="#5bbff8"/>
<rect x="2590.0" y="741.8" width="4.2" height="4.0" fill="#e8432e"/>
<rect x="2595.6" y="745.8" width="4.2" height="440.2" fill="#5bbff8"/>
<rect x="2595.6" y="745.8" width="4.2" height="4.0" fill="#e8432e"/>
<rect x="2601.2" y="702.1" width="4.2" height="483.9" fill="#5bbff8"/>
<rect x="2601.2" y="702.1" width="4.2" height="4.0" fill="#e8432e"/>
<rect x="2606.8" y="747.8" width="4.2" height="438.2" fill="#5bbff8"/>
<rect x="2606.8" y="747.8" width="4.2" height="4.0" fill="#e8432e"/>
<rect x="2612.3" y="733.9" width="4.2" height="452.1" fill="#5bbff8"/>
<rect x="2612.3" y="733.9" width="4.2" height="4.0" fill="#e8432e"/>
<rect x="2617.9" y="704.1" width="4.2" height="481.9" fill="#5bbff8"/>
<rect x="2617.9" y="704.1" width="4.2" height="4.0" fill="#e8432e"/>
</svg>
<div class="t" style="left:1648.0px;top:380.6px;font-size:25px;color:#999;font-weight:normal;transform:translateX(-100%);">8k</div>
<div class="t" style="left:1648.0px;top:479.8px;font-size:25px;color:#999;font-weight:normal;transform:translateX(-100%);">7k</div>
<div class="t" style="left:1648.0px;top:578.9px;font-size:25px;color:#999;font-weight:normal;transform:translateX(-100%);">6k</div>
<div class="t" style="left:1648.0px;top:678.1px;font-size:25px;color:#999;font-weight:normal;transform:translateX(-100%);">5k</div>
<div class="t" style="left:1648.0px;top:777.2px;font-size:25px;color:#999;font-weight:normal;transform:translateX(-100%);">4k</div>
<div class="t" style="left:1648.0px;top:876.4px;font-size:25px;color:#999;font-weight:normal;transform:translateX(-100%);">3k</div>
<div class="t" style="left:1648.0px;top:975.5px;font-size:25px;color:#999;font-weight:normal;transform:translateX(-100%);">2k</div>
<div class="t" style="left:1648.0px;top:1074.7px;font-size:25px;color:#999;font-weight:normal;transform:translateX(-100%);">1k</div>
<div class="t" style="left:1648.0px;top:1173.8px;font-size:25px;color:#999;font-weight:normal;transform:translateX(-100%);">0</div>
<div class="t" style="left:1867.2px;top:1204.8px;font-size:25px;color:#999;font-weight:normal;transform:translateX(-50%);">00:00</div>
<div class="t" style="left:1867.2px;top:1235.8px;font-size:25px;color:#999;font-weight:normal;transform:translateX(-50%);">01<span style="margin:0 -2px">–</span>14</div>
<div class="t" style="left:2135.1px;top:1204.8px;font-size:25px;color:#999;font-weight:normal;transform:translateX(-50%);">00:00</div>
<div class="t" style="left:2135.1px;top:1235.8px;font-size:25px;color:#999;font-weight:normal;transform:translateX(-50%);">01<span style="margin:0 -2px">–</span>16</div>
<div class="t" style="left:2401.5px;top:1204.8px;font-size:25px;color:#999;font-weight:normal;transform:translateX(-50%);">00:00</div>
<div class="t" style="left:2401.5px;top:1235.8px;font-size:25px;color:#999;font-weight:normal;transform:translateX(-50%);">01<span style="margin:0 -2px">–</span>18</div>
<div class="t" style="left:1597px;top:790px;font-size:24px;color:#666;transform:translate(-50%,-50%) rotate(-90deg)">请求次数</div>
<div class="abs" style="left:1908px;top:1304px;width:24px;height:24px;border-radius:50%;background:#5bbff8"></div>
<div class="t" style="left:1945.5px;top:1306.7px;font-size:24px;color:#555;font-weight:normal;">正常请求数(次)</div>
<div class="abs" style="left:2149px;top:1304px;width:24px;height:24px;border-radius:50%;background:#e8432e"></div>
<div class="t" style="left:2188.4px;top:1306.7px;font-size:24px;color:#555;font-weight:normal;">错误数(次)</div>
<div class="abs" style="left:2695px;top:270px;width:1133px;height:1108px;background:#fff;border-radius:10px;box-shadow:0 0 5px 1px rgba(0,0,0,0.07)"></div>
<div class="abs" style="left:2695px;top:342px;width:1133px;height:2px;background:#e5e6e9"></div>
<div class="abs" style="left:2725px;top:300px;width:14px;height:14px;border-radius:50%;background:#5bc8d6"></div>
<div class="t" style="left:2750.0px;top:294.2px;font-size:24px;color:#333;font-weight:normal;">自动报告-远程调用-最差业务响应时间趋势TOP10</div>
<svg class="abs" style="left:0;top:0" width="3896" height="1998">
<g stroke="#d2d2d2" stroke-width="2" stroke-dasharray="2 2" fill="none">
<line x1="2810" y1="393.9" x2="3784" y2="393.9"/>
<line x1="2810" y1="492.9" x2="3784" y2="492.9"/>
<line x1="2810" y1="591.9" x2="3784" y2="591.9"/>
<line x1="2810" y1="690.9" x2="3784" y2="690.9"/>
<line x1="2810" y1="790.0" x2="3784" y2="790.0"/>
<line x1="2810" y1="889.0" x2="3784" y2="889.0"/>
<line x1="2810" y1="988.0" x2="3784" y2="988.0"/>
<line x1="2810" y1="1087.0" x2="3784" y2="1087.0"/>
<line x1="2865.0" y1="393.9" x2="2865.0" y2="1186.0"/>
<line x1="3000.6" y1="393.9" x2="3000.6" y2="1186.0"/>
<line x1="3139.3" y1="393.9" x2="3139.3" y2="1186.0"/>
<line x1="3274.8" y1="393.9" x2="3274.8" y2="1186.0"/>
<line x1="3412.0" y1="393.9" x2="3412.0" y2="1186.0"/>
<line x1="3550.6" y1="393.9" x2="3550.6" y2="1186.0"/>
<line x1="3687.0" y1="393.9" x2="3687.0" y2="1186.0"/>
</g>
<line x1="2810" y1="1186.0" x2="3784" y2="1186.0" stroke="#c8c8c8" stroke-width="2"/>
<path d="M2818.0 913.4C2819.1 912.6 2822.3 956.8 2824.3 908.7C2826.2 860.7 2827.8 677.6 2829.8 625.1C2831.7 572.6 2834.1 585.9 2836.0 593.7C2838.0 601.6 2839.6 596.6 2841.5 672.1C2843.5 747.6 2844.8 1050.3 2847.8 1046.6C2850.8 1043.0 2856.5 693.6 2859.5 650.1C2862.5 606.7 2863.9 762.2 2865.8 785.7C2867.8 809.2 2869.5 778.1 2871.3 791.2C2873.1 804.2 2874.8 865.0 2876.8 864.1C2878.7 863.1 2881.2 765.7 2883.0 785.7C2884.9 805.7 2885.4 1007.4 2887.8 983.9C2890.1 960.4 2895.1 701.9 2897.2 644.7C2899.2 587.5 2898.7 625.7 2900.3 640.7C2901.9 655.8 2904.5 678.6 2906.6 734.8C2908.6 790.9 2910.9 936.1 2912.8 977.7C2914.8 1019.2 2916.0 1011.4 2918.3 983.9C2920.7 956.5 2924.3 820.0 2926.9 813.1C2929.5 806.2 2930.8 952.9 2934.0 942.4C2937.1 932.0 2941.2 722.4 2945.7 750.4C2950.3 778.5 2957.7 1092.6 2961.4 1110.9C2965.1 1129.2 2965.7 902.6 2967.7 860.1C2969.6 817.7 2971.2 888.9 2973.2 856.2C2975.1 823.6 2977.2 680.6 2979.4 664.3C2981.6 647.9 2984.5 741.3 2986.5 758.3C2988.4 775.3 2989.5 739.3 2991.2 766.1C2992.9 792.9 2994.8 910.0 2996.7 918.9C2998.5 927.8 2999.5 806.6 3002.1 819.4C3004.8 832.2 3009.5 1021.5 3012.3 995.7C3015.2 969.8 3016.4 673.1 3019.4 664.3C3022.4 655.4 3027.4 909.1 3030.4 942.4C3033.4 975.7 3034.8 881.0 3037.4 864.1C3040.0 847.1 3043.3 836.0 3046.0 840.5C3048.8 845.1 3051.5 906.5 3053.9 891.5C3056.2 876.5 3057.3 741.6 3060.1 750.4C3063.0 759.3 3067.3 948.0 3071.1 944.8C3074.9 941.5 3079.2 804.4 3082.9 730.9C3086.5 657.3 3090.2 491.2 3093.0 503.6C3095.9 516.0 3098.1 802.7 3100.1 805.3C3102.0 807.9 3102.0 491.9 3104.8 519.3C3107.5 546.7 3113.5 935.9 3116.5 969.8C3119.5 1003.8 3120.9 713.9 3122.8 723.0C3124.8 732.2 3126.5 995.3 3128.3 1024.7C3130.1 1054.1 3131.8 919.6 3133.8 899.3C3135.7 879.1 3138.0 916.9 3140.1 903.2C3142.1 889.5 3143.4 852.3 3146.3 817.0C3149.2 781.8 3154.2 688.4 3157.3 691.7C3160.4 694.9 3162.4 845.1 3165.1 836.6C3167.9 828.1 3170.9 628.3 3173.7 640.7C3176.6 653.2 3179.5 926.1 3182.4 911.1C3185.2 896.0 3188.0 557.2 3191.0 550.6C3194.0 544.1 3197.5 846.4 3200.4 871.9C3203.3 897.4 3206.0 684.5 3208.2 703.4C3210.4 722.4 3211.7 986.2 3213.7 985.5C3215.7 984.8 3217.9 747.8 3220.0 699.5C3222.1 651.2 3223.9 673.4 3226.2 695.6C3228.6 717.8 3231.5 787.7 3234.1 832.7C3236.7 877.8 3239.6 980.9 3241.9 965.9C3244.3 950.9 3246.0 770.7 3248.2 742.6C3250.4 714.5 3253.1 793.5 3255.2 797.5C3257.3 801.4 3258.1 764.2 3260.7 766.1C3263.3 768.1 3267.5 817.0 3270.9 809.2C3274.3 801.4 3277.8 727.6 3281.1 719.1C3284.4 710.6 3288.3 765.5 3290.5 758.3C3292.7 751.1 3292.8 658.4 3294.4 676.0C3296.0 693.6 3297.3 867.3 3299.9 864.1C3302.5 860.8 3307.1 687.8 3310.1 656.4C3313.1 625.1 3314.9 607.4 3317.9 676.0C3320.9 744.6 3325.1 1069.7 3328.1 1067.8C3331.1 1065.8 3334.0 717.1 3335.9 664.3C3337.9 611.4 3338.2 756.3 3339.9 750.4C3341.6 744.6 3342.6 610.7 3346.1 629.0C3349.6 647.3 3356.4 873.8 3361.0 860.1C3365.6 846.4 3370.3 540.8 3373.5 546.7C3376.8 552.6 3378.5 853.6 3380.6 895.4C3382.7 937.2 3383.5 850.3 3386.1 797.5C3388.7 744.6 3393.3 572.2 3396.3 578.1C3399.3 583.9 3401.9 790.9 3404.1 832.7C3406.3 874.5 3407.6 850.3 3409.6 828.8C3411.5 807.2 3413.2 675.0 3415.9 703.4C3418.5 731.9 3422.4 998.3 3425.3 999.6C3428.1 1000.9 3430.1 759.3 3433.1 711.3C3436.1 663.2 3440.3 702.1 3443.3 711.3C3446.3 720.4 3449.2 766.1 3451.1 766.1C3453.1 766.1 3453.3 708.7 3455.0 711.3C3456.7 713.9 3458.7 781.8 3461.3 781.8C3463.9 781.8 3468.1 732.2 3470.7 711.3C3473.3 690.4 3475.0 659.0 3477.0 656.4C3478.9 653.8 3480.6 704.7 3482.5 695.6C3484.3 686.5 3486.0 553.5 3487.9 601.6C3489.9 649.6 3492.3 975.8 3494.2 983.9C3496.2 992.0 3497.7 683.2 3499.7 650.1C3501.7 617.1 3504.0 771.6 3506.0 785.7C3507.9 799.8 3509.5 700.8 3511.4 734.8C3513.4 768.7 3515.6 982.9 3517.7 989.4C3519.8 996.0 3521.9 810.5 3524.0 773.9C3526.1 737.4 3528.4 792.9 3530.3 770.0C3532.1 747.2 3533.4 617.9 3535.0 636.8C3536.5 655.8 3537.7 874.5 3539.7 883.6C3541.6 892.8 3544.5 719.1 3546.7 691.7C3548.9 664.3 3550.4 725.0 3553.0 719.1C3555.6 713.2 3559.8 631.6 3562.4 656.4C3565.0 681.2 3566.6 849.0 3568.6 868.0C3570.7 886.9 3573.0 774.6 3574.9 770.0C3576.9 765.5 3578.4 869.3 3580.4 840.5C3582.4 811.8 3583.0 592.4 3586.7 597.7C3590.3 602.9 3598.8 826.8 3602.3 871.9C3605.9 916.9 3606.0 924.8 3607.8 868.0C3609.7 811.2 3611.4 514.1 3613.3 531.0C3615.3 548.0 3616.6 942.4 3619.6 969.8C3622.6 997.3 3628.1 712.6 3631.3 695.6C3634.6 678.6 3636.3 861.7 3639.2 868.0C3642.0 874.2 3645.2 706.0 3648.6 733.2C3652.0 760.4 3656.5 1003.9 3659.5 1030.9C3662.5 1058.0 3664.6 908.8 3666.6 895.4C3668.5 881.9 3669.3 998.6 3671.3 950.2C3673.2 901.9 3676.3 661.6 3678.3 605.5C3680.4 549.3 3681.9 572.2 3683.8 613.3C3685.8 654.5 3687.5 817.7 3690.1 852.3C3692.7 886.9 3696.9 858.2 3699.5 821.0C3702.1 783.7 3703.7 630.3 3705.8 629.0C3707.9 627.7 3709.9 800.7 3712.0 813.1C3714.1 825.5 3715.4 683.2 3718.3 703.4C3721.2 723.7 3726.4 927.0 3729.3 934.6C3732.1 942.1 3732.9 761.9 3735.5 748.9C3738.2 735.8 3741.4 876.2 3744.9 856.2C3748.5 836.2 3753.0 619.2 3756.7 629.0C3760.4 638.8 3763.9 900.6 3766.9 915.0C3769.9 929.3 3773.4 748.5 3774.7 715.2" fill="none" stroke="#5bbff8" stroke-width="3.6"/>
</svg>
<div class="t" style="left:2779.6px;top:380.2px;font-size:25px;color:#999;font-weight:normal;transform:translateX(-100%);">35k</div>
<div class="t" style="left:2779.6px;top:479.2px;font-size:25px;color:#999;font-weight:normal;transform:translateX(-100%);">32.5k</div>
<div class="t" style="left:2779.6px;top:578.3px;font-size:25px;color:#999;font-weight:normal;transform:translateX(-100%);">30k</div>
<div class="t" style="left:2779.6px;top:677.3px;font-size:25px;color:#999;font-weight:normal;transform:translateX(-100%);">27.5k</div>
<div class="t" style="left:2779.6px;top:776.3px;font-size:25px;color:#999;font-weight:normal;transform:translateX(-100%);">25k</div>
<div class="t" style="left:2779.6px;top:875.3px;font-size:25px;color:#999;font-weight:normal;transform:translateX(-100%);">22.5k</div>
<div class="t" style="left:2779.6px;top:974.3px;font-size:25px;color:#999;font-weight:normal;transform:translateX(-100%);">20k</div>
<div class="t" style="left:2779.6px;top:1073.3px;font-size:25px;color:#999;font-weight:normal;transform:translateX(-100%);">17.5k</div>
<div class="t" style="left:2779.6px;top:1172.3px;font-size:25px;color:#999;font-weight:normal;transform:translateX(-100%);">15k</div>
<div class="t" style="left:2865.0px;top:1204.8px;font-size:25px;color:#999;font-weight:normal;transform:translateX(-50%);">00:00</div>
<div class="t" style="left:2865.0px;top:1235.8px;font-size:25px;color:#999;font-weight:normal;transform:translateX(-50%);">01<span style="margin:0 -2px">–</span>13</div>
<div class="t" style="left:3000.6px;top:1204.8px;font-size:25px;color:#999;font-weight:normal;transform:translateX(-50%);">00:00</div>
<div class="t" style="left:3000.6px;top:1235.8px;font-size:25px;color:#999;font-weight:normal;transform:translateX(-50%);">01<span style="margin:0 -2px">–</span>14</div>
<div class="t" style="left:3139.3px;top:1204.8px;font-size:25px;color:#999;font-weight:normal;transform:translateX(-50%);">00:00</div>
<div class="t" style="left:3139.3px;top:1235.8px;font-size:25px;color:#999;font-weight:normal;transform:translateX(-50%);">01<span style="margin:0 -2px">–</span>15</div>
<div class="t" style="left:3274.8px;top:1204.8px;font-size:25px;color:#999;font-weight:normal;transform:translateX(-50%);">00:00</div>
<div class="t" style="left:3274.8px;top:1235.8px;font-size:25px;color:#999;font-weight:normal;transform:translateX(-50%);">01<span style="margin:0 -2px">–</span>16</div>
<div class="t" style="left:3412.0px;top:1204.8px;font-size:25px;color:#999;font-weight:normal;transform:translateX(-50%);">00:00</div>
<div class="t" style="left:3412.0px;top:1235.8px;font-size:25px;color:#999;font-weight:normal;transform:translateX(-50%);">01<span style="margin:0 -2px">–</span>17</div>
<div class="t" style="left:3550.6px;top:1204.8px;font-size:25px;color:#999;font-weight:normal;transform:translateX(-50%);">00:00</div>
<div class="t" style="left:3550.6px;top:1235.8px;font-size:25px;color:#999;font-weight:normal;transform:translateX(-50%);">01<span style="margin:0 -2px">–</span>18</div>
<div class="t" style="left:3687.0px;top:1204.8px;font-size:25px;color:#999;font-weight:normal;transform:translateX(-50%);">00:00</div>
<div class="t" style="left:3687.0px;top:1235.8px;font-size:25px;color:#999;font-weight:normal;transform:translateX(-50%);">01<span style="margin:0 -2px">–</span>19</div>
<div class="abs" style="left:3203px;top:1317px;width:31px;height:3px;background:#5bbff8"></div>
<div class="t" style="left:3245.8px;top:1306.7px;font-size:24px;color:#555;font-weight:normal;">/2271</div>
<div class="abs" style="left:388px;top:1397px;width:1134px;height:544px;background:#fff;border-radius:10px;box-shadow:0 0 5px 1px rgba(0,0,0,0.07)"></div>
<div class="abs" style="left:388px;top:1469px;width:1134px;height:2px;background:#e5e6e9"></div>
<div class="abs" style="left:418px;top:1427px;width:14px;height:14px;border-radius:50%;background:#5bc8d6"></div>
<div class="t" style="left:443.0px;top:1421.2px;font-size:24px;color:#333;font-weight:normal;">tomcat-444-实例分析-错误请求趋势</div>
<svg class="abs" style="left:0;top:0" width="3896" height="1998">
<g stroke="#d2d2d2" stroke-width="2" stroke-dasharray="2 2" fill="none">
<line x1="540" y1="1522.5" x2="1477.5" y2="1522.5"/>
<line x1="540" y1="1636.5" x2="1477.5" y2="1636.5"/>
<line x1="694.8" y1="1522.5" x2="694.8" y2="1750.5"/>
<line x1="929.0" y1="1522.5" x2="929.0" y2="1750.5"/>
<line x1="1165.0" y1="1522.5" x2="1165.0" y2="1750.5"/>
<line x1="1399.0" y1="1522.5" x2="1399.0" y2="1750.5"/>
</g>
<line x1="540" y1="1750.5" x2="1477.5" y2="1750.5" stroke="#c8c8c8" stroke-width="2"/>
<rect x="554.0" y="1744.8" width="10" height="5.7" fill="#5bbff8"/>
<rect x="848.0" y="1741.4" width="10" height="9.1" fill="#5bbff8"/>
<rect x="848.0" y="1736.8" width="10" height="4.6" fill="#e8432e"/>
<rect x="868.0" y="1650.2" width="10" height="100.3" fill="#5bbff8"/>
<rect x="886.0" y="1636.5" width="10" height="114.0" fill="#5bbff8"/>
<rect x="906.0" y="1647.9" width="10" height="102.6" fill="#5bbff8"/>
<rect x="926.0" y="1650.2" width="10" height="100.3" fill="#5bbff8"/>
<rect x="946.0" y="1644.5" width="10" height="106.0" fill="#5bbff8"/>
<rect x="965.6" y="1562.4" width="10" height="188.1" fill="#5bbff8"/>
<rect x="984.3" y="1678.7" width="10" height="71.8" fill="#5bbff8"/>
<rect x="1003.7" y="1582.9" width="10" height="167.6" fill="#5bbff8"/>
<rect x="1024.0" y="1702.6" width="10" height="47.9" fill="#5bbff8"/>
<rect x="1318.0" y="1740.2" width="10" height="10.3" fill="#5bbff8"/>
<rect x="1338.0" y="1740.2" width="10" height="10.3" fill="#5bbff8"/>
<rect x="1356.0" y="1673.0" width="10" height="77.5" fill="#5bbff8"/>
<rect x="1376.0" y="1748.2" width="10" height="2.3" fill="#5bbff8"/>
<rect x="1396.0" y="1722.0" width="10" height="28.5" fill="#5bbff8"/>
<rect x="1434.0" y="1718.6" width="10" height="31.9" fill="#5bbff8"/>
<rect x="1434.0" y="1714.0" width="10" height="4.6" fill="#e8432e"/>
<rect x="1454.0" y="1748.2" width="10" height="2.3" fill="#5bbff8"/>
</svg>
<div class="t" style="left:509.0px;top:1510.3px;font-size:25px;color:#999;font-weight:normal;transform:translateX(-100%);">200</div>
<div class="t" style="left:509.0px;top:1624.3px;font-size:25px;color:#999;font-weight:normal;transform:translateX(-100%);">100</div>
<div class="t" style="left:509.0px;top:1738.3px;font-size:25px;color:#999;font-weight:normal;transform:translateX(-100%);">0</div>
<div class="t" style="left:694.8px;top:1768.8px;font-size:25px;color:#999;font-weight:normal;transform:translateX(-50%);">00:00</div>
<div class="t" style="left:694.8px;top:1799.8px;font-size:25px;color:#999;font-weight:normal;transform:translateX(-50%);">01<span style="margin:0 -2px">–</span>18</div>
<div class="t" style="left:929.0px;top:1768.8px;font-size:25px;color:#999;font-weight:normal;transform:translateX(-50%);">12:00</div>
<div class="t" style="left:929.0px;top:1799.8px;font-size:25px;color:#999;font-weight:normal;transform:translateX(-50%);">01<span style="margin:0 -2px">–</span>18</div>
<div class="t" style="left:1165.0px;top:1768.8px;font-size:25px;color:#999;font-weight:normal;transform:translateX(-50%);">00:00</div>
<div class="t" style="left:1165.0px;top:1799.8px;font-size:25px;color:#999;font-weight:normal;transform:translateX(-50%);">01<span style="margin:0 -2px">–</span>19</div>
<div class="t" style="left:1399.0px;top:1768.8px;font-size:25px;color:#999;font-weight:normal;transform:translateX(-50%);">12:00</div>
<div class="t" style="left:1399.0px;top:1799.8px;font-size:25px;color:#999;font-weight:normal;transform:translateX(-50%);">01<span style="margin:0 -2px">–</span>19</div>
<div class="t" style="left:444px;top:1634px;font-size:24px;color:#666;transform:translate(-50%,-50%) rotate(-90deg)">请求次数</div>
<div class="abs" style="left:753.5px;top:1869px;width:24px;height:24px;border-radius:50%;background:#5bbff8"></div>
<div class="t" style="left:793.0px;top:1869.7px;font-size:24px;color:#555;font-weight:normal;">正常请求数(次)</div>
<div class="abs" style="left:995.5px;top:1869px;width:24px;height:24px;border-radius:50%;background:#e8432e"></div>
<div class="t" style="left:1034.0px;top:1869.7px;font-size:24px;color:#555;font-weight:normal;">错误数(次)</div>
<div class="abs" style="left:1542px;top:1397px;width:1133px;height:703px;background:#fff;border-radius:10px;box-shadow:0 0 5px 1px rgba(0,0,0,0.07)"></div>
<div class="abs" style="left:1542px;top:1469px;width:1133px;height:2px;background:#e5e6e9"></div>
<div class="abs" style="left:1572px;top:1427px;width:14px;height:14px;border-radius:50%;background:#5bc8d6"></div>
<div class="t" style="left:1597.0px;top:1421.2px;font-size:24px;color:#333;font-weight:normal;">*datadiff.jar-实例分析-Heap内存使用率(%)</div>
<svg class="abs" style="left:0;top:0" width="3896" height="1998">
<g stroke="#d2d2d2" stroke-width="2" stroke-dasharray="2 2" fill="none">
<line x1="1629.4" y1="1520.3" x2="2631.8" y2="1520.3"/>
<line x1="1629.4" y1="1619.8" x2="2631.8" y2="1619.8"/>
<line x1="1629.4" y1="1719.4" x2="2631.8" y2="1719.4"/>
<line x1="1629.4" y1="1818.9" x2="2631.8" y2="1818.9"/>
<line x1="1629.4" y1="1918.5" x2="2631.8" y2="1918.5"/>
<line x1="1685.0" y1="1520.3" x2="1685.0" y2="2000.0"/>
<line x1="1827.3" y1="1520.3" x2="1827.3" y2="2000.0"/>
<line x1="1968.8" y1="1520.3" x2="1968.8" y2="2000.0"/>
<line x1="2109.0" y1="1520.3" x2="2109.0" y2="2000.0"/>
<line x1="2251.0" y1="1520.3" x2="2251.0" y2="2000.0"/>
<line x1="2391.0" y1="1520.3" x2="2391.0" y2="2000.0"/>
<line x1="2533.0" y1="1520.3" x2="2533.0" y2="2000.0"/>
</g>
<path d="M1692.2 1984.0C1693.1 1977.9 1696.2 1947.6 1698.1 1947.6C1700.0 1947.6 1691.6 1977.2 1703.5 1984.0C1715.4 1990.8 1757.8 2004.5 1769.5 1988.5C1781.3 1972.6 1772.5 1913.4 1774.1 1888.4C1775.6 1863.4 1777.1 1846.3 1778.6 1838.4C1780.1 1830.4 1781.6 1833.8 1783.2 1840.6C1784.7 1847.5 1786.0 1854.7 1787.7 1879.3C1789.4 1904.0 1790.9 1974.1 1793.2 1988.5C1795.4 2002.9 1798.9 1992.3 1801.4 1965.8C1803.9 1939.2 1805.9 1863.4 1808.2 1829.3C1810.5 1795.1 1813.0 1757.2 1815.0 1761.0C1817.1 1764.8 1818.6 1814.1 1820.5 1852.0C1822.4 1889.9 1824.3 1965.8 1826.4 1988.5C1828.5 2011.3 1830.6 2003.7 1833.2 1988.5C1835.9 1973.4 1840.0 1920.3 1842.3 1897.5C1844.6 1874.8 1845.3 1874.8 1846.9 1852.0C1848.4 1829.3 1849.9 1761.0 1851.4 1761.0C1852.9 1761.0 1854.1 1814.1 1856.0 1852.0C1857.9 1889.9 1860.5 1965.8 1862.8 1988.5C1865.1 2011.3 1867.7 2014.3 1869.6 1988.5C1871.5 1962.7 1872.3 1862.3 1874.2 1833.8C1876.1 1805.4 1878.6 1820.2 1881.0 1817.9C1883.4 1815.6 1886.7 1810.7 1888.7 1820.2C1890.8 1829.6 1891.2 1846.7 1893.3 1874.8C1895.4 1902.8 1899.0 1973.4 1901.5 1988.5C1904.0 2003.7 1906.0 1999.9 1908.3 1965.8C1910.6 1931.6 1912.8 1817.9 1915.1 1783.8C1917.4 1749.6 1920.0 1749.6 1921.9 1761.0C1923.8 1772.4 1924.6 1814.1 1926.5 1852.0C1928.4 1889.9 1930.7 1965.8 1933.3 1988.5C1936.0 2011.3 1940.1 2002.9 1942.4 1988.5C1944.7 1974.1 1945.1 1918.8 1947.0 1902.1C1948.9 1885.4 1951.9 1896.8 1953.8 1888.4C1955.7 1880.1 1956.8 1874.8 1958.3 1852.0C1959.9 1829.3 1961.4 1744.3 1962.9 1751.9C1964.4 1759.5 1965.5 1858.1 1967.4 1897.5C1969.3 1937.0 1972.0 1973.4 1974.3 1988.5C1976.5 2003.7 1978.8 2018.9 1981.1 1988.5C1983.4 1958.2 1985.9 1841.4 1987.9 1806.5C1990.0 1771.6 1991.5 1782.3 1993.4 1779.2C1995.3 1776.2 1997.3 1786.0 1999.3 1788.3C2001.3 1790.6 2003.3 1774.7 2005.2 1792.9C2007.1 1811.1 2008.2 1864.9 2010.7 1897.5C2013.1 1930.1 2016.4 1973.4 2019.8 1988.5C2023.2 2003.7 2028.0 2020.4 2031.1 1988.5C2034.3 1956.7 2036.6 1825.9 2038.9 1797.4C2041.2 1769.0 2042.7 1827.8 2044.8 1817.9C2046.9 1808.0 2049.3 1732.6 2051.6 1738.3C2053.9 1744.0 2056.2 1810.3 2058.4 1852.0C2060.7 1893.7 2062.6 1965.8 2065.3 1988.5C2067.9 2011.3 2071.7 2007.5 2074.4 1988.5C2077.0 1969.6 2078.5 1900.6 2081.2 1874.8C2083.9 1849.0 2087.5 1862.6 2090.3 1833.8C2093.1 1805.0 2095.8 1695.0 2098.0 1701.9C2100.3 1708.7 2101.8 1827.0 2103.9 1874.8C2106.1 1922.5 2108.5 1977.9 2110.8 1988.5C2113.1 1999.1 2115.7 1949.1 2117.6 1938.5C2119.5 1927.9 2120.4 1925.6 2122.2 1924.8C2123.9 1924.1 2126.2 1947.6 2128.1 1933.9C2130.0 1920.3 2131.7 1859.6 2133.5 1842.9C2135.3 1826.2 2136.9 1849.7 2139.0 1833.8C2141.1 1817.9 2144.0 1755.7 2146.3 1747.4C2148.5 1739.0 2150.6 1743.6 2152.6 1783.8C2154.7 1824.0 2156.4 1962.0 2158.6 1988.5C2160.7 2015.1 2162.7 1958.2 2165.4 1943.0C2168.0 1927.9 2171.8 1910.4 2174.5 1897.5C2177.1 1884.6 2179.0 1872.5 2181.3 1865.7C2183.6 1858.8 2185.2 1875.5 2188.1 1856.6C2191.0 1837.6 2195.7 1752.7 2198.6 1751.9C2201.5 1751.2 2203.4 1812.6 2205.4 1852.0C2207.5 1891.5 2209.2 1965.8 2210.9 1988.5C2212.5 2011.3 2213.5 2008.2 2215.4 1988.5C2217.3 1968.8 2220.0 1892.2 2222.3 1870.2C2224.5 1848.2 2226.8 1858.8 2229.1 1856.6C2231.4 1854.3 2234.0 1864.2 2235.9 1856.6C2237.8 1849.0 2238.6 1819.4 2240.5 1811.1C2242.4 1802.7 2245.4 1813.3 2247.3 1806.5C2249.2 1799.7 2250.2 1739.8 2251.8 1770.1C2253.5 1800.5 2255.0 1952.1 2257.3 1988.5C2259.6 2024.9 2262.6 2016.6 2265.5 1988.5C2268.4 1960.5 2271.9 1840.6 2274.6 1820.2C2277.2 1799.7 2278.8 1871.7 2281.4 1865.7C2284.1 1859.6 2287.9 1801.2 2290.5 1783.8C2293.2 1766.3 2295.3 1749.6 2297.3 1761.0C2299.4 1772.4 2300.9 1814.1 2302.8 1852.0C2304.7 1889.9 2306.6 1965.8 2308.7 1988.5C2310.8 2011.3 2313.3 2011.3 2315.5 1988.5C2317.8 1965.8 2320.1 1883.9 2322.4 1852.0C2324.6 1820.2 2327.3 1808.0 2329.2 1797.4C2331.1 1786.8 2331.8 1798.2 2333.7 1788.3C2335.6 1778.5 2338.3 1727.6 2340.6 1738.3C2342.8 1748.9 2345.1 1810.3 2347.4 1852.0C2349.7 1893.7 2351.6 1965.8 2354.2 1988.5C2356.9 2011.3 2360.7 2009.0 2363.3 1988.5C2366.0 1968.1 2367.9 1886.1 2370.1 1865.7C2372.4 1845.2 2374.3 1898.3 2377.0 1865.7C2379.6 1833.1 2383.6 1649.5 2386.1 1670.0C2388.5 1690.5 2389.2 1941.9 2391.5 1988.5C2393.8 2035.2 2397.2 1949.8 2399.7 1949.8C2402.2 1949.8 2404.3 1997.2 2406.5 1988.5C2408.8 1979.8 2410.7 1924.1 2413.4 1897.5C2416.0 1871.0 2419.2 1862.3 2422.5 1829.3C2425.7 1796.3 2429.9 1673.0 2432.9 1699.6C2436.0 1726.1 2438.2 1940.4 2440.7 1988.5C2443.1 2036.7 2445.2 2003.7 2447.5 1988.5C2449.8 1973.4 2451.3 1922.5 2454.3 1897.5C2457.3 1872.5 2462.7 1855.1 2465.7 1838.4C2468.7 1821.7 2470.1 1812.2 2472.5 1797.4C2474.9 1782.6 2478.0 1717.8 2480.3 1749.6C2482.5 1781.5 2484.0 1986.6 2486.2 1988.5C2488.3 1990.4 2490.7 1804.2 2493.0 1761.0C2495.3 1717.8 2496.9 1757.2 2499.8 1729.2C2502.7 1701.1 2507.2 1579.8 2510.3 1592.7C2513.3 1605.6 2515.6 1760.6 2518.0 1806.5C2520.4 1852.4 2522.9 1860.4 2524.8 1867.9C2526.7 1875.5 2527.9 1871.4 2529.4 1852.0C2530.9 1832.7 2532.0 1778.5 2533.9 1751.9C2535.8 1725.4 2538.9 1724.6 2540.8 1692.8C2542.7 1660.9 2543.8 1560.8 2545.3 1560.8C2546.8 1560.8 2548.0 1640.1 2549.9 1692.8C2551.8 1745.5 2554.4 1858.1 2556.7 1877.0C2559.0 1896.0 2561.1 1839.5 2563.5 1806.5C2565.9 1773.5 2569.2 1701.9 2571.3 1679.1C2573.3 1656.4 2574.2 1668.5 2575.8 1670.0C2577.4 1671.5 2578.7 1704.9 2580.8 1688.2C2582.9 1671.5 2586.3 1580.5 2588.5 1569.9C2590.7 1559.3 2592.3 1573.7 2594.0 1624.5C2595.7 1675.3 2596.8 1840.6 2598.6 1874.8C2600.3 1908.9 2602.6 1833.8 2604.5 1829.3C2606.4 1824.7 2608.0 1866.4 2609.9 1847.5C2611.8 1828.5 2613.7 1758.4 2615.8 1715.5C2618.0 1672.7 2621.5 1611.2 2622.7 1590.4" fill="none" stroke="#5bbff8" stroke-width="3.6"/>
</svg>
<div class="t" style="left:1600.0px;top:1508.1px;font-size:25px;color:#999;font-weight:normal;transform:translateX(-100%);">32</div>
<div class="t" style="left:1600.0px;top:1607.7px;font-size:25px;color:#999;font-weight:normal;transform:translateX(-100%);">31</div>
<div class="t" style="left:1600.0px;top:1707.2px;font-size:25px;color:#999;font-weight:normal;transform:translateX(-100%);">30</div>
<div class="t" style="left:1600.0px;top:1806.8px;font-size:25px;color:#999;font-weight:normal;transform:translateX(-100%);">29</div>
<div class="t" style="left:1600.0px;top:1906.3px;font-size:25px;color:#999;font-weight:normal;transform:translateX(-100%);">28</div>
<div class="abs" style="left:2694.7px;top:1397px;width:1134.0px;height:544px;background:#fff;border-radius:10px;box-shadow:0 0 5px 1px rgba(0,0,0,0.07)"></div>
<div class="abs" style="left:2694.7px;top:1469px;width:1134.0px;height:2px;background:#e5e6e9"></div>
<div class="abs" style="left:2724.7px;top:1427px;width:14px;height:14px;border-radius:50%;background:#5bc8d6"></div>
<div class="t" style="left:2749.7px;top:1421.2px;font-size:24px;color:#333;font-weight:normal;">tomcat-443-实例分析-错误请求趋势</div>
<svg class="abs" style="left:0;top:0" width="3896" height="1998">
<g stroke="#d2d2d2" stroke-width="2" stroke-dasharray="2 2" fill="none">
<line x1="2846.7" y1="1522.5" x2="3784.2" y2="1522.5"/>
<line x1="2846.7" y1="1636.5" x2="3784.2" y2="1636.5"/>
<line x1="3001.5" y1="1522.5" x2="3001.5" y2="1750.5"/>
<line x1="3235.7" y1="1522.5" x2="3235.7" y2="1750.5"/>
<line x1="3471.7" y1="1522.5" x2="3471.7" y2="1750.5"/>
<line x1="3705.7" y1="1522.5" x2="3705.7" y2="1750.5"/>
</g>
<line x1="2846.7" y1="1750.5" x2="3784.2" y2="1750.5" stroke="#c8c8c8" stroke-width="2"/>
<rect x="2860.7" y="1744.8" width="10" height="5.7" fill="#5bbff8"/>
<rect x="3154.7" y="1741.4" width="10" height="9.1" fill="#5bbff8"/>
<rect x="3154.7" y="1736.8" width="10" height="4.6" fill="#e8432e"/>
<rect x="3174.7" y="1650.2" width="10" height="100.3" fill="#5bbff8"/>
<rect x="3192.7" y="1636.5" width="10" height="114.0" fill="#5bbff8"/>
<rect x="3212.7" y="1647.9" width="10" height="102.6" fill="#5bbff8"/>
<rect x="3232.7" y="1650.2" width="10" height="100.3" fill="#5bbff8"/>
<rect x="3252.7" y="1644.5" width="10" height="106.0" fill="#5bbff8"/>
<rect x="3272.3" y="1562.4" width="10" height="188.1" fill="#5bbff8"/>
<rect x="3291.0" y="1678.7" width="10" height="71.8" fill="#5bbff8"/>
<rect x="3310.4" y="1582.9" width="10" height="167.6" fill="#5bbff8"/>
<rect x="3330.7" y="1702.6" width="10" height="47.9" fill="#5bbff8"/>
<rect x="3624.7" y="1740.2" width="10" height="10.3" fill="#5bbff8"/>
<rect x="3644.7" y="1740.2" width="10" height="10.3" fill="#5bbff8"/>
<rect x="3662.7" y="1673.0" width="10" height="77.5" fill="#5bbff8"/>
<rect x="3682.7" y="1748.2" width="10" height="2.3" fill="#5bbff8"/>
<rect x="3702.7" y="1722.0" width="10" height="28.5" fill="#5bbff8"/>
<rect x="3740.7" y="1718.6" width="10" height="31.9" fill="#5bbff8"/>
<rect x="3740.7" y="1714.0" width="10" height="4.6" fill="#e8432e"/>
<rect x="3760.7" y="1748.2" width="10" height="2.3" fill="#5bbff8"/>
</svg>
<div class="t" style="left:2815.7px;top:1510.3px;font-size:25px;color:#999;font-weight:normal;transform:translateX(-100%);">200</div>
<div class="t" style="left:2815.7px;top:1624.3px;font-size:25px;color:#999;font-weight:normal;transform:translateX(-100%);">100</div>
<div class="t" style="left:2815.7px;top:1738.3px;font-size:25px;color:#999;font-weight:normal;transform:translateX(-100%);">0</div>
<div class="t" style="left:3001.5px;top:1768.8px;font-size:25px;color:#999;font-weight:normal;transform:translateX(-50%);">00:00</div>
<div class="t" style="left:3001.5px;top:1799.8px;font-size:25px;color:#999;font-weight:normal;transform:translateX(-50%);">01<span style="margin:0 -2px">–</span>18</div>
<div class="t" style="left:3235.7px;top:1768.8px;font-size:25px;color:#999;font-weight:normal;transform:translateX(-50%);">12:00</div>
<div class="t" style="left:3235.7px;top:1799.8px;font-size:25px;color:#999;font-weight:normal;transform:translateX(-50%);">01<span style="margin:0 -2px">–</span>18</div>
<div class="t" style="left:3471.7px;top:1768.8px;font-size:25px;color:#999;font-weight:normal;transform:translateX(-50%);">00:00</div>
<div class="t" style="left:3471.7px;top:1799.8px;font-size:25px;color:#999;font-weight:normal;transform:translateX(-50%);">01<span style="margin:0 -2px">–</span>19</div>
<div class="t" style="left:3705.7px;top:1768.8px;font-size:25px;color:#999;font-weight:normal;transform:translateX(-50%);">12:00</div>
<div class="t" style="left:3705.7px;top:1799.8px;font-size:25px;color:#999;font-weight:normal;transform:translateX(-50%);">01<span style="margin:0 -2px">–</span>19</div>
<div class="t" style="left:2750.7px;top:1634px;font-size:24px;color:#666;transform:translate(-50%,-50%) rotate(-90deg)">请求次数</div>
<div class="abs" style="left:3060.2px;top:1869px;width:24px;height:24px;border-radius:50%;background:#5bbff8"></div>
<div class="t" style="left:3099.7px;top:1869.7px;font-size:24px;color:#555;font-weight:normal;">正常请求数(次)</div>
<div class="abs" style="left:3302.2px;top:1869px;width:24px;height:24px;border-radius:50%;background:#e8432e"></div>
<div class="t" style="left:3340.7px;top:1869.7px;font-size:24px;color:#555;font-weight:normal;">错误数(次)</div>
<div class="abs" style="left:0px;top:0px;width:3896px;height:130px;background:#2e3552"></div>
<svg class="abs" style="left:0;top:0" width="3896" height="200">
<defs><clipPath id="lgc"><rect x="40" y="40" width="80" height="80"/></clipPath></defs>
<path d="M72 64 C80 57 96 57 103 66 C108 73 108 86 102 92 C99 95 96 97 92 98 L101 98 C98 101 92 102 86 101 L77 99 C75 104 70 106 65 104 C60 102 59 96 62 92 C63 90 65 89 67 88 C64 82 64 70 72 64 Z" fill="#fff"/>
<ellipse cx="88.7" cy="78" rx="10.5" ry="11" fill="#2e3552"/>
<path d="M77 62 C71 68 70 76 74 82" fill="none" stroke="#2e3552" stroke-width="1.6"/>
<path d="M62 91 L71 100" fill="none" stroke="#2e3552" stroke-width="2.2"/>
</svg>
<div class="t" style="left:112.0px;top:64.9px;font-size:36px;color:#fff;font-weight:300;">Bonree</div>
<div class="abs" style="left:266px;top:62px;width:2px;height:40px;background:#565d78"></div>
<div class="t" style="left:300.0px;top:70.2px;font-size:24px;color:#fff;font-weight:bold;letter-spacing:1px;">产品</div>
<svg class="abs" style="left:0;top:0" width="3896" height="1998"><polyline points="440.0,77.0 448,87.0 456.0,77.0" fill="none" stroke="#d8dae2" stroke-width="2"/></svg>
<div class="t" style="left:3282.0px;top:69.3px;font-size:25px;color:#d9dbe2;font-weight:normal;">官网</div>
<div class="t" style="left:3380.0px;top:69.3px;font-size:25px;color:#d9dbe2;font-weight:normal;">费用</div>
<div class="t" style="left:3476.0px;top:68.8px;font-size:25px;color:#d9dbe2;font-weight:normal;">APP</div>
<svg class="abs" style="left:0;top:0" width="3896" height="200"><g fill="none" stroke="#8d92a2" stroke-width="2.5">
<rect x="3586" y="67" width="11" height="11" rx="3"/><rect x="3604" y="67" width="11" height="11" rx="3"/>
<rect x="3586" y="85" width="11" height="11" rx="3"/>
</g><g fill="#8d92a2"><rect x="3590" y="71" width="3" height="3"/><rect x="3608" y="71" width="3" height="3"/><rect x="3590" y="89" width="3" height="3"/>
<rect x="3604" y="85" width="2" height="3"/><rect x="3609" y="85" width="2" height="3"/><rect x="3614" y="85" width="2" height="3"/>
<rect x="3604" y="90" width="2" height="6"/><rect x="3609" y="90" width="2" height="6"/><rect x="3614" y="90" width="2" height="6"/></g>
<rect x="3682" y="66" width="29" height="30" rx="4" fill="none" stroke="#8d92a2" stroke-width="2.5"/>
</svg>
<div class="t" style="left:3686.0px;top:72.1px;font-size:20px;color:#8d92a2;font-weight:normal;letter-spacing:-1px;">En</div>
<svg class="abs" style="left:0;top:0" width="3896" height="200">
<defs><clipPath id="av"><circle cx="3792.1" cy="81.8" r="27.8"/></clipPath></defs>
<circle cx="3792.1" cy="81.8" r="27.8" fill="#deebfc"/>
<g clip-path="url(#av)">
<ellipse cx="3792.2" cy="106" rx="21" ry="12" fill="#438bf2"/>
<rect x="3788" y="87" width="8.5" height="9" fill="#ecc39c"/>
<ellipse cx="3781" cy="79.5" rx="1.8" ry="2.2" fill="#efcba8"/><ellipse cx="3803" cy="79.5" rx="1.8" ry="2.2" fill="#efcba8"/>
<path d="M3781.5 72 H3802.5 V82 C3802.5 87 3798 90.5 3792 90.5 C3786 90.5 3781.5 87 3781.5 82 Z" fill="#efcba8"/>
<path d="M3780 79 C3778 66 3784 60 3792 60.5 C3800 60 3805 65 3804 79 L3802.5 76 C3802 73 3801 72 3799 71.5 C3793 72.5 3787 72 3783 71 C3781.5 72.5 3781 75 3781 78 Z" fill="#3c3c3c"/>
</g></svg>
</div></body></html>
